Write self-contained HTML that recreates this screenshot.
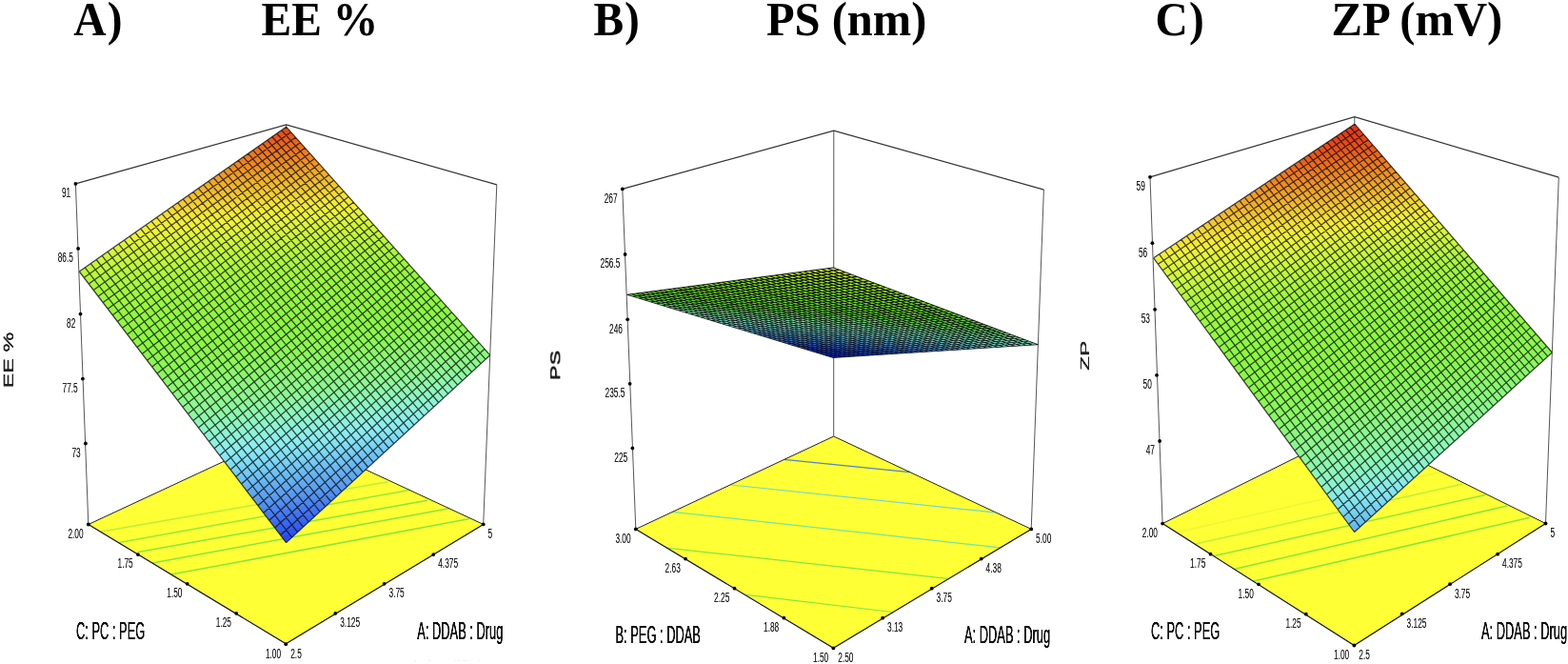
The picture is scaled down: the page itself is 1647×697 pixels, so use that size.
<!DOCTYPE html>
<html lang="en"><head><meta charset="utf-8"><title>Response surface plots</title>
<style>html,body{margin:0;padding:0;background:#fff}body{width:1647px;height:697px;overflow:hidden}svg{display:block}</style>
</head><body>
<svg width="1647" height="697" viewBox="0 0 1647 697">
<rect width="1647" height="697" fill="#fff"/>
<defs><filter id="tb" x="-5%" y="-5%" width="110%" height="110%" color-interpolation-filters="sRGB"><feGaussianBlur stdDeviation="0.5 0.25"/><feComponentTransfer><feFuncA type="linear" slope="1.7"/></feComponentTransfer></filter><filter id="soft" x="-2%" y="-2%" width="104%" height="104%" color-interpolation-filters="sRGB"><feGaussianBlur stdDeviation="0.4"/></filter><filter id="tl" x="-5%" y="-5%" width="110%" height="110%" color-interpolation-filters="sRGB"><feGaussianBlur stdDeviation="0.3 0.3"/><feComponentTransfer><feFuncA type="linear" slope="1.2"/></feComponentTransfer></filter></defs>
<g id="panelA">
<g filter="url(#soft)">
<polygon points="92.8,550.5 300.3,675.8 507.7,550.4 300.3,454" fill="#ffff36"/>
<line x1="106.5" y1="557.9" x2="407.3" y2="505.8" stroke="#9be83a" stroke-width="1.5" stroke-opacity="0.7"/>
<line x1="125.2" y1="569.4" x2="429.5" y2="514.4" stroke="#84e43c" stroke-width="1.5" stroke-opacity="0.85"/>
<line x1="145.2" y1="579.5" x2="448.9" y2="525.2" stroke="#7ce23c" stroke-width="1.5" stroke-opacity="0.9"/>
<line x1="160.3" y1="590.9" x2="471.8" y2="533.8" stroke="#7ce23c" stroke-width="1.5" stroke-opacity="0.9"/>
<line x1="179.7" y1="603.1" x2="493.3" y2="544.6" stroke="#7ce23c" stroke-width="1.5" stroke-opacity="0.9"/>
<polyline points="92.8,550.5 300.3,454 507.7,550.4" fill="none" stroke="#222" stroke-width="1"/>
<polyline points="92.8,550.5 300.3,675.8 507.7,550.4" fill="none" stroke="#111" stroke-width="1.2"/>
<path d="M79.4,192.9 L92.8,550.5 M521.8,193.8 L507.7,550.4 M300.6,130.9 L300.3,454" fill="none" stroke="#555" stroke-width="1"/>
<polyline points="79.4,192.9 300.6,130.9 521.8,193.8" fill="none" stroke="#333" stroke-width="1.2"/>
<g shape-rendering="geometricPrecision"><polygon points="300.6,569.6 308.1,562.7 296.9,564.7" fill="#2643f4"/><polygon points="303.6,566.8 315.6,555.9 293.1,559.8 299.1,567.6" fill="#294af4"/><polygon points="311.1,560 323,549.1 289.4,555 295.4,562.7" fill="#2f55f4"/><polygon points="318.5,553.1 330.3,542.3 285.7,550.1 291.6,557.9" fill="#345ff4"/><polygon points="325.9,546.4 337.6,535.6 282,545.3 287.9,553" fill="#3a68f4"/><polygon points="333.2,539.6 344.8,529 278.3,540.5 284.2,548.2" fill="#3f72f4"/><polygon points="340.5,533 352,522.4 274.7,535.7 280.6,543.3" fill="#457bf4"/><polygon points="347.7,526.3 359.1,515.9 271,530.9 276.9,538.5" fill="#4a85f4"/><polygon points="354.8,519.8 366.2,509.4 267.4,526.1 273.2,533.7" fill="#5090f4"/><polygon points="361.9,513.2 373.2,502.9 263.8,521.3 269.6,529" fill="#559af4"/><polygon points="369,506.8 380.2,496.5 260.1,516.6 265.9,524.2" fill="#5ba2f4"/><polygon points="376,500.3 387.1,490.1 256.5,511.9 262.3,519.4" fill="#5faaf5"/><polygon points="382.9,494 393.9,483.8 252.9,507.2 258.7,514.7" fill="#62b1f7"/><polygon points="389.8,487.6 400.8,477.6 249.3,502.5 255.1,510" fill="#67b9f8"/><polygon points="396.7,481.3 407.5,471.4 245.8,497.8 251.5,505.3" fill="#6cc2f8"/><polygon points="403.5,475.1 414.2,465.2 242.2,493.1 247.9,500.6" fill="#71caf8"/><polygon points="410.2,468.9 420.9,459.1 238.7,488.5 244.3,495.9" fill="#77d3f8"/><polygon points="416.9,462.7 427.5,453 235.1,483.8 240.8,491.3" fill="#7cdcf8"/><polygon points="423.6,456.6 434.1,446.9 231.6,479.2 237.2,486.6" fill="#81e3f6"/><polygon points="430.2,450.5 440.7,440.9 228.1,474.6 233.7,482" fill="#86eaf5"/><polygon points="436.7,444.5 447.1,435 224.6,470 230.2,477.4" fill="#8aeef0"/><polygon points="443.3,438.5 453.6,429.1 221.1,465.5 226.7,472.8" fill="#8cf0eb"/><polygon points="449.7,432.6 460,423.2 217.6,460.9 223.2,468.2" fill="#8cf2e2"/><polygon points="456.1,426.7 466.3,417.3 214.1,456.3 219.7,463.6" fill="#8cf4da"/><polygon points="462.5,420.8 472.6,411.5 210.7,451.8 216.2,459.1" fill="#8cf5d0"/><polygon points="468.8,415 478.9,405.8 207.2,447.3 212.7,454.5" fill="#8cf7c6"/><polygon points="475.1,409.2 485.1,400.1 203.8,442.8 209.3,450" fill="#8cf8bc"/><polygon points="481.4,403.5 491.3,394.4 200.3,438.3 205.8,445.5" fill="#8cf8b2"/><polygon points="487.6,397.8 497.4,388.8 196.9,433.8 202.4,441" fill="#8cf8a8"/><polygon points="493.7,392.1 503.5,383.2 193.5,429.4 199,436.5" fill="#8cf89e"/><polygon points="499.9,386.5 509.6,377.6 190.1,424.9 195.6,432" fill="#8cf894"/><polygon points="505.9,380.9 514.8,372.8 514.3,372.3 186.7,420.5 192.2,427.6" fill="#8cf88d"/><polygon points="512,375.4 514.8,372.8 510.7,368.2 183.4,416.1 188.8,423.1" fill="#8cf888"/><polygon points="512.9,370.6 507,364.1 180,411.6 185.4,418.7" fill="#8bf881"/><polygon points="509.2,366.6 503.4,360.1 176.6,407.3 182,414.3" fill="#8bf87a"/><polygon points="505.6,362.5 499.8,356 173.3,402.9 178.7,409.9" fill="#8af872"/><polygon points="502,358.5 496.2,352 170,398.5 175.3,405.5" fill="#8af86b"/><polygon points="498.4,354.4 492.6,348 166.6,394.2 172,401.1" fill="#8af864"/><polygon points="494.8,350.4 489,344 163.3,389.8 168.6,396.8" fill="#8af85d"/><polygon points="491.2,346.4 485.5,340 160,385.5 165.3,392.4" fill="#8af856"/><polygon points="487.6,342.4 481.9,336 156.7,381.2 162,388.1" fill="#8af852"/><polygon points="484,338.4 478.3,332 153.4,376.9 158.7,383.8" fill="#8af84d"/><polygon points="480.5,334.4 474.8,328 150.2,372.6 155.4,379.5" fill="#8af848"/><polygon points="476.9,330.4 471.3,324.1 146.9,368.3 152.1,375.2" fill="#8af846"/><polygon points="473.4,326.5 467.7,320.2 143.7,364.1 148.9,370.9" fill="#8af844"/><polygon points="469.9,322.5 464.2,316.2 140.4,359.8 145.6,366.6" fill="#8bf842"/><polygon points="466.3,318.6 460.7,312.3 137.2,355.6 142.4,362.4" fill="#8cf841"/><polygon points="462.8,314.7 457.2,308.4 134,351.4 139.1,358.1" fill="#8df840"/><polygon points="459.3,310.7 453.8,304.5 130.7,347.1 135.9,353.9" fill="#8ef840"/><polygon points="455.8,306.8 450.3,300.6 127.5,342.9 132.7,349.7" fill="#8ff840"/><polygon points="452.4,303 446.8,296.8 124.4,338.8 129.5,345.5" fill="#90f840"/><polygon points="448.9,299.1 443.4,292.9 121.2,334.6 126.3,341.3" fill="#91f83f"/><polygon points="445.4,295.2 439.9,289 118,330.4 123.1,337.1" fill="#92f83f"/><polygon points="442,291.4 436.5,285.2 114.8,326.3 119.9,332.9" fill="#94f83e"/><polygon points="438.5,287.5 433.1,281.4 111.7,322.2 116.7,328.8" fill="#96f83e"/><polygon points="435.1,283.7 429.7,277.6 108.5,318 113.6,324.6" fill="#99f83d"/><polygon points="431.7,279.8 426.2,273.7 105.4,313.9 110.4,320.5" fill="#9cf83c"/><polygon points="428.3,276 422.9,270 102.3,309.8 107.3,316.4" fill="#9ff83c"/><polygon points="424.9,272.2 419.5,266.2 99.1,305.8 104.1,312.3" fill="#a2f83c"/><polygon points="421.5,268.4 416.1,262.4 96,301.7 101,308.2" fill="#a5f83c"/><polygon points="418.1,264.7 412.7,258.6 92.9,297.6 97.9,304.1" fill="#a9f83b"/><polygon points="414.7,260.9 409.4,254.9 89.8,293.6 94.8,300.1" fill="#adf83a"/><polygon points="411.4,257.1 406,251.1 86.8,289.5 91.7,296" fill="#b2f83a"/><polygon points="408,253.4 402.7,247.4 83.7,285.5 88.6,292" fill="#b8f839"/><polygon points="404.7,249.6 399.4,243.7 89.9,280.4 83.3,285 85.5,287.9" fill="#bef838"/><polygon points="401.4,245.9 396,240 97.4,275.2 85.4,283.6" fill="#c3f838"/><polygon points="398,242.2 392.7,236.3 104.8,270 92.9,278.3" fill="#c9f738"/><polygon points="394.7,238.5 389.4,232.6 112.2,264.8 100.4,273.1" fill="#cff638"/><polygon points="391.4,234.8 386.1,228.9 119.5,259.7 107.8,267.9" fill="#d5f638"/><polygon points="388.1,231.1 382.9,225.2 126.8,254.6 115.1,262.8" fill="#dbf638"/><polygon points="384.8,227.4 379.6,221.5 134.1,249.5 122.5,257.6" fill="#e2f537"/><polygon points="381.5,223.7 376.3,217.9 141.3,244.5 129.7,252.6" fill="#e8f535"/><polygon points="378.3,220.1 373.1,214.3 148.4,239.5 137,247.5" fill="#eef434"/><polygon points="375,216.4 369.8,210.6 155.5,234.5 144.1,242.5" fill="#f1f033"/><polygon points="371.8,212.8 366.6,207 162.6,229.6 151.3,237.5" fill="#f3ec31"/><polygon points="368.5,209.2 363.4,203.4 169.6,224.7 158.4,232.6" fill="#f6e730"/><polygon points="365.3,205.6 360.1,199.8 176.6,219.9 165.4,227.7" fill="#f5df2f"/><polygon points="362.1,202 356.9,196.2 183.5,215 172.4,222.8" fill="#f5d72d"/><polygon points="358.8,198.4 353.7,192.6 190.3,210.2 179.3,217.9" fill="#f4cf2c"/><polygon points="355.6,194.8 350.5,189 197.2,205.5 186.2,213.1" fill="#f3c72b"/><polygon points="352.4,191.2 347.3,185.5 203.9,200.7 193.1,208.3" fill="#f3bf29"/><polygon points="349.3,187.6 344.2,181.9 210.7,196 199.9,203.6" fill="#f2b728"/><polygon points="346.1,184.1 341,178.4 217.4,191.3 206.6,198.8" fill="#f2b125"/><polygon points="342.9,180.5 337.8,174.9 224,186.7 213.4,194.1" fill="#f1a923"/><polygon points="339.7,177 334.7,171.3 230.6,182.1 220,189.5" fill="#f1a021"/><polygon points="336.6,173.4 331.6,167.8 237.2,177.5 226.7,184.8" fill="#f09720"/><polygon points="333.4,169.9 328.4,164.3 243.7,172.9 233.3,180.2" fill="#ef8f1f"/><polygon points="330.3,166.4 325.3,160.8 250.2,168.4 239.8,175.7" fill="#ef871f"/><polygon points="327.2,162.9 322.2,157.3 256.6,163.9 246.3,171.1" fill="#ee801e"/><polygon points="324,159.4 319.1,153.9 263,159.4 252.8,166.6" fill="#ed791d"/><polygon points="320.9,155.9 316,150.4 269.4,155 259.2,162.1" fill="#ed721d"/><polygon points="317.8,152.5 312.9,146.9 275.7,150.6 265.6,157.7" fill="#ec6b1c"/><polygon points="314.7,149 309.8,143.5 282,146.2 271.9,153.2" fill="#eb621b"/><polygon points="311.6,145.6 306.7,140 288.2,141.8 278.2,148.8" fill="#ea5a1a"/><polygon points="308.6,142.1 303.7,136.6 294.4,137.5 284.5,144.5" fill="#e85218"/><polygon points="305.5,138.7 300.6,133.2 290.7,140.1" fill="#e74b17"/></g>
<path d="M300.6 569.6L83.3 285M300.6 569.6L514.8 372.8M306.6 564.1L89.3 280.8M294.6 561.8L509 366.3M312.5 558.6L95.3 276.6M288.7 554L503.1 359.8M318.4 553.2L101.2 272.5M282.7 546.2L497.4 353.3M324.3 547.8L107.2 268.3M276.8 538.5L491.6 346.8M330.2 542.4L113 264.2M271 530.8L485.9 340.4M336 537.1L118.9 260.1M265.1 523.2L480.1 334M341.8 531.8L124.7 256.1M259.3 515.6L474.5 327.7M347.5 526.5L130.5 252M253.6 508L468.8 321.3M353.2 521.3L136.2 248M247.8 500.5L463.2 315.1M358.9 516.1L142 244M242.1 493L457.6 308.8M364.5 510.9L147.7 240M236.4 485.5L452 302.5M370.1 505.7L153.3 236.1M230.8 478.1L446.4 296.3M375.7 500.6L159 232.1M225.1 470.8L440.9 290.1M381.2 495.5L164.6 228.2M219.5 463.4L435.4 284M386.7 490.5L170.2 224.3M214 456.1L429.9 277.9M392.2 485.4L175.7 220.5M208.4 448.9L424.5 271.8M397.7 480.4L181.2 216.6M202.9 441.6L419 265.7M403.1 475.4L186.7 212.8M197.4 434.5L413.6 259.6M408.5 470.5L192.2 208.9M192 427.3L408.3 253.6M413.8 465.6L197.6 205.2M186.5 420.2L402.9 247.6M419.1 460.7L203 201.4M181.1 413.1L397.6 241.7M424.4 455.8L208.4 197.6M175.7 406.1L392.3 235.7M429.7 451L213.7 193.9M170.4 399.1L387 229.8M434.9 446.2L219 190.2M165.1 392.1L381.7 223.9M440.1 441.4L224.3 186.5M159.8 385.1L376.5 218.1M445.3 436.7L229.6 182.8M154.5 378.2L371.3 212.2M450.4 431.9L234.8 179.1M149.2 371.4L366.1 206.4M455.6 427.2L240.1 175.5M144 364.5L360.9 200.7M460.7 422.5L245.2 171.9M138.8 357.7L355.8 194.9M465.7 417.9L250.4 168.3M133.7 350.9L350.6 189.2M470.7 413.3L255.5 164.7M128.5 344.2L345.5 183.5M475.7 408.7L260.6 161.1M123.4 337.5L340.4 177.8M480.7 404.1L265.7 157.6M118.3 330.8L335.4 172.1M485.7 399.6L270.8 154M113.2 324.2L330.4 166.5M490.6 395L275.8 150.5M108.2 317.6L325.3 160.9M495.5 390.5L280.8 147M103.2 311L320.4 155.3M500.4 386.1L285.8 143.5M98.2 304.5L315.4 149.7M505.2 381.6L290.8 140.1M93.2 297.9L310.4 144.2M510 377.2L295.7 136.6M88.2 291.5L305.5 138.7M514.8 372.8L300.6 133.2M83.3 285L300.6 133.2" fill="none" stroke="#101008" stroke-width="1.25" stroke-opacity="0.78"/>
<g fill="#000">
<circle cx="79.4" cy="192.9" r="1.9"/>
<circle cx="82.1" cy="260.9" r="1.9"/>
<circle cx="84.5" cy="329.6" r="1.9"/>
<circle cx="86.9" cy="397.6" r="1.9"/>
<circle cx="89.9" cy="465.5" r="1.9"/>
<circle cx="92.8" cy="550.5" r="1.9"/>
<circle cx="144.9" cy="582.1" r="1.9"/>
<circle cx="196.7" cy="612.8" r="1.9"/>
<circle cx="248.2" cy="643.8" r="1.9"/>
<circle cx="300.3" cy="676.2" r="1.9"/>
<circle cx="352.3" cy="643.8" r="1.9"/>
<circle cx="403.6" cy="612.8" r="1.9"/>
<circle cx="455.3" cy="582.1" r="1.9"/>
<circle cx="507.7" cy="550.4" r="1.9"/>
</g>
</g>
<g font-family="'Liberation Sans',Arial,sans-serif" filter="url(#tl)">
<text transform="translate(74.2 207.3) scale(0.555 1)" font-size="15.0" text-anchor="end" fill="#222">91</text>
<text transform="translate(76.9 275.3) scale(0.555 1)" font-size="15.0" text-anchor="end" fill="#222">86.5</text>
<text transform="translate(79.3 344) scale(0.555 1)" font-size="15.0" text-anchor="end" fill="#222">82</text>
<text transform="translate(81.7 412) scale(0.555 1)" font-size="15.0" text-anchor="end" fill="#222">77.5</text>
<text transform="translate(84.7 479.9) scale(0.555 1)" font-size="15.0" text-anchor="end" fill="#222">73</text>
<text transform="translate(87.6 564.8) scale(0.555 1)" font-size="15.0" text-anchor="end" fill="#222">2.00</text>
<text transform="translate(139.7 596.4) scale(0.555 1)" font-size="15.0" text-anchor="end" fill="#222">1.75</text>
<text transform="translate(191.5 627.1) scale(0.555 1)" font-size="15.0" text-anchor="end" fill="#222">1.50</text>
<text transform="translate(243 658.1) scale(0.555 1)" font-size="15.0" text-anchor="end" fill="#222">1.25</text>
<text transform="translate(295.1 690.5) scale(0.555 1)" font-size="15.0" text-anchor="end" fill="#222">1.00</text>
<text transform="translate(305.2 690.5) scale(0.555 1)" font-size="15.0" text-anchor="start" fill="#222">2.5</text>
<text transform="translate(357.2 658.1) scale(0.555 1)" font-size="15.0" text-anchor="start" fill="#222">3.125</text>
<text transform="translate(408.5 627.1) scale(0.555 1)" font-size="15.0" text-anchor="start" fill="#222">3.75</text>
<text transform="translate(460.2 596.4) scale(0.555 1)" font-size="15.0" text-anchor="start" fill="#222">4.375</text>
<text transform="translate(512.6 564.7) scale(0.555 1)" font-size="15.0" text-anchor="start" fill="#222">5</text>
</g>
<g font-family="'Liberation Sans',Arial,sans-serif" filter="url(#tb)">
<text transform="translate(80 670.7) scale(0.515 1)" font-size="25" text-anchor="start" fill="#111">C: PC : PEG</text>
<text transform="translate(438.3 670.7) scale(0.515 1)" font-size="25" text-anchor="start" fill="#111">A: DDAB : Drug</text>
<text transform="translate(14 378) rotate(-90) scale(1 0.6)" font-size="23.5" text-anchor="middle" fill="#222">EE %</text>
</g>
</g>
<g id="panelB">
<g filter="url(#soft)">
<polygon points="667.8,555.4 875.4,680.2 1083.2,555.4 875.7,458" fill="#ffff36"/>
<line x1="823.7" y1="482.4" x2="955.6" y2="495.6" stroke="#3f74d8" stroke-width="1.2" stroke-opacity="0.9"/>
<line x1="767.8" y1="509" x2="1044.1" y2="537.8" stroke="#63d2e0" stroke-width="1.2" stroke-opacity="0.9"/>
<line x1="706.6" y1="537.3" x2="1050.2" y2="574.9" stroke="#66e0a8" stroke-width="1.2" stroke-opacity="0.9"/>
<line x1="700" y1="575.1" x2="995.4" y2="607.3" stroke="#76e244" stroke-width="1.2" stroke-opacity="0.9"/>
<line x1="783.7" y1="624.3" x2="937.7" y2="642.5" stroke="#76e244" stroke-width="1.2" stroke-opacity="0.9"/>
<polyline points="667.8,555.4 875.7,458 1083.2,555.4" fill="none" stroke="#222" stroke-width="1"/>
<polyline points="667.8,555.4 875.4,680.2 1083.2,555.4" fill="none" stroke="#111" stroke-width="1.2"/>
<path d="M653.8,198.4 L667.8,555.4 M1096.4,199.1 L1083.2,555.4 M875.8,137.1 L875.7,458" fill="none" stroke="#555" stroke-width="1"/>
<polyline points="653.8,198.4 875.8,137.1 1096.4,199.1" fill="none" stroke="#333" stroke-width="1.2"/>
<polygon points="875.4,280.9 1090.2,361.7 875.1,375.5 658.6,309.3" fill="#000" stroke="#000" stroke-width="0.8" stroke-linejoin="round"/>
<g><path fill="#dbf12d" d="M875.4 281.4l4.2 1.6l-4.2 0.6l-4.2 -1.6zM869 282.3l4.2 1.5l-4.1 0.6l-4.2 -1.6z"/><path fill="#cfef2b" d="M862.7 283.1l4.2 1.6l-4.1 0.5l-4.2 -1.6zM881.7 283.8l4.2 1.6l-4.2 0.5l-4.2 -1.5zM875.4 284.6l4.2 1.6l-4.2 0.5l-4.2 -1.5z"/><path fill="#c4ee2a" d="M856.5 283.9l4.2 1.6l-4.1 0.5l-4.2 -1.5zM850.3 284.7l4.2 1.6l-4.1 0.5l-4.2 -1.5zM869.1 285.5l4.2 1.5l-4.2 0.5l-4.2 -1.5zM888 286.2l4.2 1.5l-4.2 0.6l-4.2 -1.6zM881.7 287l4.1 1.5l-4.2 0.6l-4.1 -1.6z"/><path fill="#baed29" d="M844.2 285.5l4.2 1.6l-4.1 0.5l-4.2 -1.5zM862.8 286.3l4.2 1.5l-4.1 0.5l-4.2 -1.5zM856.6 287.1l4.2 1.5l-4.1 0.5l-4.1 -1.5zM875.4 287.8l4.1 1.5l-4.1 0.5l-4.2 -1.5zM894.3 288.5l4.1 1.6l-4.2 0.5l-4.1 -1.5zM887.9 289.3l4.1 1.6l-4.2 0.5l-4.1 -1.6z"/><path fill="#b0ec28" d="M838.1 286.3l4.2 1.5l-4 0.6l-4.2 -1.6zM832 287.1l4.3 1.5l-4 0.5l-4.2 -1.5zM850.5 287.8l4.2 1.6l-4.1 0.5l-4.1 -1.5zM869.1 288.6l4.2 1.5l-4.1 0.5l-4.2 -1.5zM862.9 289.4l4.2 1.5l-4.1 0.5l-4.1 -1.5zM881.6 290.1l4.1 1.5l-4.1 0.5l-4.1 -1.5zM900.4 290.9l4.1 1.5l-4.2 0.5l-4.1 -1.5zM894.1 291.6l4.1 1.5l-4.2 0.5l-4.1 -1.5z"/><path fill="#aaeb29" d="M826.1 287.9l4.2 1.5l-4 0.5l-4.2 -1.5zM844.4 288.6l4.2 1.5l-4 0.5l-4.2 -1.5zM838.4 289.4l4.2 1.5l-4 0.5l-4.2 -1.5zM856.8 290.1l4.1 1.5l-4 0.5l-4.1 -1.5zM875.4 290.9l4.1 1.5l-4.1 0.5l-4.1 -1.5zM869.2 291.6l4.1 1.6l-4.1 0.4l-4.1 -1.4zM887.8 292.4l4.1 1.5l-4.2 0.5l-4.1 -1.5zM906.6 293.2l4 1.5l-4.2 0.5l-4.1 -1.5zM900.2 293.9l4 1.5l-4.1 0.5l-4.1 -1.5z"/><path fill="#a4ea29" d="M820.1 288.7l4.3 1.5l-4 0.5l-4.2 -1.5zM814.3 289.4l4.2 1.5l-3.9 0.5l-4.2 -1.5zM832.4 290.2l4.2 1.5l-3.9 0.5l-4.2 -1.5zM850.7 290.9l4.2 1.5l-4 0.5l-4.2 -1.5zM844.7 291.7l4.1 1.5l-3.9 0.4l-4.2 -1.4zM863 292.4l4.2 1.5l-4.1 0.5l-4.1 -1.5zM881.5 293.2l4.1 1.5l-4.1 0.5l-4.1 -1.5zM875.4 293.9l4 1.5l-4 0.5l-4.1 -1.5zM893.9 294.7l4 1.5l-4.1 0.5l-4 -1.5zM912.6 295.4l4 1.5l-4.2 0.5l-4 -1.5zM906.3 296.2l4 1.5l-4.2 0.5l-4 -1.5z"/><path fill="#9fea2a" d="M808.4 290.2l4.3 1.5l-3.9 0.5l-4.2 -1.5zM826.5 290.9l4.2 1.5l-3.9 0.5l-4.2 -1.5zM820.6 291.7l4.2 1.5l-3.9 0.4l-4.2 -1.4zM838.7 292.4l4.2 1.5l-4 0.5l-4.1 -1.5zM832.8 293.2l4.1 1.4l-3.9 0.5l-4.1 -1.4zM857 293.2l4.1 1.4l-4 0.5l-4.2 -1.4zM850.9 293.9l4.1 1.5l-3.9 0.5l-4.2 -1.5zM869.2 294.7l4.1 1.4l-4 0.5l-4.1 -1.5zM863.1 295.4l4.1 1.5l-4 0.5l-4.1 -1.5zM887.7 295.4l4 1.5l-4.1 0.5l-4 -1.5zM881.5 296.2l4 1.4l-4.1 0.5l-4 -1.5zM900 296.9l4 1.5l-4.2 0.5l-4 -1.5zM893.7 297.6l4 1.5l-4.1 0.5l-4 -1.5zM918.6 297.7l4 1.5l-4.2 0.5l-4 -1.5zM912.3 298.4l3.9 1.5l-4.1 0.5l-4 -1.5zM924.6 299.9l3.9 1.5l-4.2 0.5l-4 -1.5z"/><path fill="#99e92a" d="M802.7 290.9l4.2 1.5l-3.8 0.5l-4.3 -1.5zM796.9 291.7l4.3 1.5l-3.8 0.4l-4.3 -1.4zM814.8 292.4l4.2 1.5l-3.9 0.5l-4.2 -1.5zM809 293.2l4.2 1.4l-3.8 0.5l-4.2 -1.4zM826.9 293.9l4.2 1.5l-3.9 0.5l-4.2 -1.5zM844.9 294.6l4.2 1.5l-4 0.5l-4.1 -1.5zM839 295.4l4.1 1.4l-3.9 0.5l-4.1 -1.4zM857.1 296.1l4.1 1.5l-4 0.5l-4.1 -1.5zM875.3 296.9l4.1 1.5l-4.1 0.4l-4 -1.4zM869.3 297.6l4 1.5l-4 0.5l-4.1 -1.5zM887.6 298.4l4 1.4l-4.1 0.5l-4 -1.4zM906 299.1l4 1.5l-4.2 0.5l-4 -1.5zM899.8 299.9l3.9 1.4l-4.1 0.5l-4 -1.5zM918.2 300.6l4 1.5l-4.2 0.5l-4 -1.5zM930.5 302.1l3.9 1.5l-4.3 0.5l-3.9 -1.5z"/><path fill="#94e82b" d="M791.2 292.4l4.3 1.5l-3.8 0.5l-4.2 -1.5zM785.6 293.2l4.3 1.4l-3.8 0.5l-4.2 -1.4zM803.3 293.9l4.2 1.5l-3.8 0.4l-4.2 -1.4zM821.1 294.6l4.1 1.5l-3.8 0.5l-4.2 -1.5zM815.3 295.4l4.2 1.4l-3.9 0.5l-4.1 -1.5zM833.1 296.1l4.2 1.5l-3.9 0.4l-4.1 -1.4zM851.1 296.9l4.1 1.4l-3.9 0.5l-4.1 -1.5zM845.2 297.6l4.1 1.4l-3.9 0.5l-4.1 -1.4zM863.2 298.3l4.1 1.5l-4 0.5l-4.1 -1.5zM881.4 299.1l4 1.5l-4 0.4l-4 -1.4zM875.3 299.8l4.1 1.5l-4.1 0.4l-4 -1.4zM893.6 300.6l3.9 1.4l-4 0.5l-4 -1.4zM911.9 301.4l4 1.4l-4.2 0.5l-3.9 -1.5zM905.7 302.1l4 1.4l-4.2 0.5l-3.9 -1.5zM924.1 302.8l3.9 1.5l-4.2 0.5l-3.9 -1.5zM936.3 304.3l3.9 1.5l-4.2 0.4l-3.9 -1.4z"/><path fill="#8ee72b" d="M780 293.9l4.3 1.4l-3.7 0.5l-4.3 -1.4zM797.6 294.6l4.2 1.5l-3.8 0.5l-4.2 -1.5zM792 295.3l4.2 1.5l-3.8 0.5l-4.2 -1.5zM809.6 296.1l4.1 1.4l-3.8 0.5l-4.1 -1.4zM827.3 296.8l4.1 1.5l-3.8 0.5l-4.1 -1.5zM821.5 297.5l4.2 1.5l-3.9 0.5l-4.1 -1.5zM839.3 298.3l4.1 1.4l-3.9 0.5l-4.1 -1.4zM857.3 299l4 1.5l-3.9 0.5l-4.1 -1.5zM851.3 299.8l4.1 1.4l-3.9 0.5l-4.1 -1.5zM869.3 300.5l4 1.5l-4 0.4l-4 -1.4zM887.4 301.3l4 1.4l-4 0.5l-4 -1.4zM881.4 302l3.9 1.4l-4 0.5l-4 -1.4zM899.5 302.8l4 1.4l-4.1 0.5l-4 -1.5zM917.8 303.5l4 1.5l-4.2 0.4l-3.9 -1.4zM911.6 304.2l3.9 1.5l-4.1 0.4l-3.9 -1.4zM930 305l3.8 1.5l-4.1 0.4l-3.9 -1.4zM942.1 306.5l3.8 1.4l-4.2 0.5l-3.8 -1.4z"/><path fill="#88e72c" d="M774.5 294.6l4.2 1.5l-3.6 0.4l-4.3 -1.4zM769 295.3l4.3 1.5l-3.7 0.4l-4.2 -1.4zM786.4 296.1l4.2 1.4l-3.7 0.5l-4.2 -1.5zM803.9 296.8l4.2 1.4l-3.8 0.5l-4.2 -1.4zM798.3 297.5l4.1 1.4l-3.7 0.5l-4.2 -1.4zM815.8 298.3l4.1 1.4l-3.8 0.5l-4.1 -1.5zM833.5 299l4.1 1.4l-3.9 0.5l-4.1 -1.4zM827.7 299.7l4.1 1.4l-3.8 0.5l-4.1 -1.4zM845.5 300.5l4 1.4l-3.9 0.5l-4 -1.5zM863.3 301.2l4.1 1.5l-4 0.4l-4 -1.4zM857.4 301.9l4 1.5l-3.9 0.4l-4 -1.4zM875.3 302.7l4 1.4l-4 0.5l-4 -1.5zM893.4 303.5l3.9 1.4l-4 0.5l-4 -1.5zM887.3 304.1l4 1.5l-4.1 0.4l-3.9 -1.4zM905.4 304.9l3.9 1.5l-4 0.4l-4 -1.4zM923.7 305.7l3.9 1.4l-4.2 0.5l-3.9 -1.4zM917.5 306.4l3.8 1.4l-4.1 0.5l-3.9 -1.5zM935.8 307.2l3.8 1.4l-4.2 0.5l-3.8 -1.5zM947.8 308.7l3.8 1.4l-4.2 0.4l-3.8 -1.4z"/><path fill="#83e62c" d="M763.6 296l4.2 1.5l-3.6 0.4l-4.2 -1.4zM780.8 296.8l4.2 1.4l-3.6 0.5l-4.2 -1.5zM775.4 297.5l4.2 1.4l-3.7 0.5l-4.2 -1.5zM792.7 298.2l4.1 1.4l-3.7 0.5l-4.1 -1.4zM810.1 299l4.2 1.4l-3.8 0.4l-4.1 -1.4zM804.5 299.7l4.1 1.4l-3.7 0.4l-4.1 -1.4zM822 300.4l4.1 1.4l-3.8 0.5l-4.1 -1.4zM839.6 301.2l4.1 1.4l-3.9 0.4l-4 -1.4zM833.8 301.8l4.1 1.5l-3.8 0.4l-4.1 -1.4zM851.5 302.6l4.1 1.4l-3.9 0.5l-4.1 -1.4zM869.4 303.4l3.9 1.4l-3.9 0.5l-4 -1.5zM863.4 304.1l4 1.4l-3.9 0.4l-4 -1.4zM881.3 304.8l4 1.5l-4 0.4l-4 -1.4zM899.3 305.6l3.9 1.4l-4 0.5l-4 -1.4zM893.2 306.3l4 1.4l-4.1 0.5l-3.9 -1.5zM911.3 307.1l3.9 1.4l-4.1 0.4l-3.9 -1.4zM929.5 307.9l3.8 1.4l-4.1 0.4l-3.9 -1.4zM923.3 308.5l3.8 1.5l-4.1 0.4l-3.9 -1.4zM941.5 309.3l3.8 1.5l-4.2 0.4l-3.8 -1.4zM953.5 310.8l3.8 1.4l-4.2 0.4l-3.8 -1.4z"/><path fill="#81e52d" d="M758.2 296.7l4.2 1.5l-3.6 0.4l-4.2 -1.4zM752.8 297.4l4.3 1.5l-3.6 0.4l-4.2 -1.4zM769.9 298.2l4.2 1.4l-3.6 0.5l-4.2 -1.5zM787.1 298.9l4.2 1.4l-3.7 0.5l-4.1 -1.4zM781.6 299.6l4.2 1.4l-3.6 0.5l-4.2 -1.4zM798.9 300.3l4.1 1.5l-3.7 0.4l-4.1 -1.4zM816.3 301.1l4.1 1.4l-3.8 0.5l-4.1 -1.4zM810.7 301.8l4.1 1.4l-3.8 0.4l-4.1 -1.4zM828.1 302.5l4.1 1.5l-3.8 0.4l-4.1 -1.4zM845.7 303.3l4 1.4l-3.8 0.5l-4.1 -1.4zM839.9 304l4.1 1.4l-3.9 0.4l-4 -1.4zM857.6 304.7l3.9 1.5l-3.9 0.4l-3.9 -1.4zM875.3 305.5l4 1.4l-4 0.5l-3.9 -1.4zM869.4 306.2l4 1.4l-4 0.4l-3.9 -1.4zM887.2 307l3.9 1.4l-4 0.4l-3.9 -1.4zM905.2 307.7l3.9 1.5l-4.1 0.4l-3.9 -1.4zM899.1 308.4l3.9 1.4l-4 0.5l-3.9 -1.4zM917.1 309.2l3.8 1.4l-4.1 0.4l-3.8 -1.4zM935.2 310l3.8 1.4l-4.1 0.4l-3.8 -1.4zM929 310.7l3.8 1.4l-4.1 0.4l-3.8 -1.4zM947.2 311.5l3.8 1.4l-4.2 0.4l-3.8 -1.4zM959.2 312.9l3.7 1.4l-4.2 0.4l-3.8 -1.4z"/><path fill="#7ee42d" d="M747.5 298.1l4.2 1.4l-3.5 0.5l-4.2 -1.4zM764.5 298.9l4.2 1.4l-3.6 0.4l-4.2 -1.4zM759.1 299.6l4.3 1.4l-3.6 0.4l-4.2 -1.4zM776.2 300.3l4.2 1.4l-3.7 0.4l-4.1 -1.4zM793.4 301l4.1 1.4l-3.7 0.5l-4.1 -1.4zM787.9 301.7l4.1 1.4l-3.6 0.5l-4.2 -1.4zM805.1 302.5l4.1 1.4l-3.7 0.4l-4.1 -1.4zM822.4 303.2l4.1 1.4l-3.8 0.5l-4 -1.4zM816.8 303.9l4.1 1.4l-3.8 0.4l-4 -1.4zM834.2 304.6l4 1.5l-3.8 0.4l-4 -1.4zM851.7 305.4l4 1.4l-3.8 0.5l-4 -1.4zM845.9 306.1l4 1.4l-3.8 0.4l-4 -1.4zM863.5 306.8l4 1.5l-3.9 0.4l-4 -1.4zM881.2 307.6l4 1.4l-4 0.5l-3.9 -1.4zM875.3 308.3l3.9 1.4l-3.9 0.4l-3.9 -1.4zM893.1 309.1l3.9 1.4l-4 0.4l-3.9 -1.4zM911 309.9l3.8 1.4l-4 0.4l-3.9 -1.4zM904.9 310.5l3.9 1.4l-4.1 0.4l-3.8 -1.4zM922.8 311.3l3.9 1.4l-4.1 0.4l-3.9 -1.4zM940.9 312.1l3.8 1.4l-4.2 0.4l-3.7 -1.4zM934.7 312.8l3.8 1.3l-4.1 0.5l-3.8 -1.4zM952.8 313.6l3.8 1.4l-4.2 0.4l-3.8 -1.4zM946.6 314.2l3.7 1.4l-4.1 0.4l-3.8 -1.4zM964.8 315l3.7 1.4l-4.3 0.4l-3.7 -1.4z"/><path fill="#7be32d" d="M742.2 298.8l4.3 1.4l-3.5 0.5l-4.3 -1.4zM737 299.5l4.3 1.4l-3.5 0.4l-4.3 -1.3zM753.8 300.2l4.2 1.4l-3.5 0.5l-4.2 -1.4zM770.8 301l4.2 1.4l-3.6 0.4l-4.2 -1.4zM765.4 301.6l4.2 1.4l-3.6 0.5l-4.1 -1.4zM782.4 302.4l4.2 1.4l-3.7 0.4l-4.1 -1.4zM799.5 303.1l4.1 1.4l-3.6 0.5l-4.1 -1.4zM794 303.8l4.2 1.4l-3.7 0.4l-4.1 -1.3zM811.2 304.6l4.1 1.4l-3.7 0.4l-4.1 -1.4zM828.5 305.3l4 1.4l-3.7 0.5l-4.1 -1.4zM822.9 306l4 1.4l-3.7 0.4l-4.1 -1.4zM840.2 306.7l4 1.4l-3.8 0.5l-4 -1.4zM834.5 307.4l4 1.4l-3.7 0.4l-4.1 -1.4zM857.7 307.5l4 1.4l-3.9 0.4l-4 -1.3zM851.9 308.2l4 1.4l-3.9 0.4l-3.9 -1.4zM869.4 308.9l4 1.4l-3.9 0.5l-4 -1.4zM863.6 309.6l4 1.4l-3.9 0.4l-4 -1.4zM887.1 309.7l3.9 1.4l-4 0.4l-3.9 -1.3zM881.2 310.4l3.9 1.4l-4 0.4l-3.9 -1.4zM898.9 311.2l3.8 1.4l-4 0.4l-3.8 -1.4zM892.9 311.8l3.9 1.4l-4 0.4l-3.9 -1.4zM916.7 312l3.9 1.3l-4.1 0.5l-3.8 -1.4zM910.7 312.6l3.8 1.4l-4 0.4l-3.9 -1.4zM928.5 313.4l3.8 1.4l-4.1 0.4l-3.8 -1.4zM922.4 314l3.8 1.4l-4 0.4l-3.8 -1.3zM940.4 314.8l3.7 1.4l-4.1 0.4l-3.8 -1.3zM958.4 315.6l3.8 1.4l-4.2 0.4l-3.8 -1.3zM952.2 316.3l3.7 1.4l-4.2 0.4l-3.7 -1.4zM970.3 317.1l3.7 1.4l-4.3 0.4l-3.6 -1.4z"/><path fill="#79e22e" d="M731.8 300.2l4.3 1.4l-3.5 0.4l-4.2 -1.4zM748.6 300.9l4.2 1.4l-3.5 0.4l-4.2 -1.3zM743.3 301.6l4.2 1.4l-3.4 0.4l-4.2 -1.4zM760.1 302.3l4.2 1.4l-3.6 0.4l-4.1 -1.3zM754.8 303l4.2 1.4l-3.5 0.4l-4.2 -1.4zM777 303.1l4.2 1.3l-3.6 0.5l-4.2 -1.4zM771.6 303.7l4.2 1.4l-3.6 0.4l-4.1 -1.3zM788.6 304.5l4.1 1.4l-3.6 0.4l-4.1 -1.4zM783.2 305.1l4.1 1.4l-3.6 0.4l-4.1 -1.3zM805.7 305.2l4 1.4l-3.7 0.4l-4 -1.3zM800.2 305.9l4 1.4l-3.6 0.4l-4.1 -1.4zM817.3 306.6l4 1.4l-3.7 0.5l-4 -1.4zM811.7 307.3l4.1 1.4l-3.7 0.4l-4.1 -1.4zM828.9 308l4 1.4l-3.8 0.5l-4 -1.4zM846.2 308.8l4 1.4l-3.9 0.4l-3.9 -1.3zM840.5 309.5l4 1.3l-3.8 0.5l-4 -1.4zM857.8 310.2l4 1.4l-3.9 0.4l-3.9 -1.3zM875.3 311l3.9 1.4l-3.9 0.4l-3.9 -1.4zM869.5 311.7l3.9 1.3l-3.9 0.4l-3.9 -1.3zM887 312.4l3.9 1.4l-4 0.4l-3.9 -1.3zM904.6 313.2l3.9 1.4l-4 0.4l-3.9 -1.3zM898.7 313.9l3.8 1.3l-4 0.5l-3.8 -1.4zM916.4 314.7l3.8 1.3l-4.1 0.5l-3.8 -1.4zM934.2 315.5l3.8 1.3l-4.1 0.5l-3.8 -1.4zM928.1 316.1l3.8 1.4l-4.1 0.4l-3.8 -1.4zM946 316.9l3.7 1.4l-4.1 0.4l-3.8 -1.4zM964 317.7l3.7 1.4l-4.2 0.4l-3.7 -1.4zM957.7 318.3l3.7 1.4l-4.2 0.4l-3.7 -1.4zM975.8 319.1l3.6 1.4l-4.2 0.4l-3.7 -1.3z"/><path fill="#76e12e" d="M726.7 300.9l4.2 1.3l-3.4 0.5l-4.2 -1.4zM721.6 301.5l4.2 1.4l-3.4 0.4l-4.2 -1.3zM738.2 302.2l4.2 1.4l-3.5 0.5l-4.2 -1.4zM733 302.9l4.2 1.4l-3.4 0.4l-4.2 -1.4zM749.6 303.6l4.2 1.4l-3.5 0.4l-4.2 -1.3zM766.3 304.4l4.2 1.4l-3.6 0.4l-4.1 -1.4zM761.1 305l4.1 1.4l-3.5 0.4l-4.2 -1.3zM777.8 305.8l4.1 1.4l-3.5 0.4l-4.2 -1.4zM794.7 306.5l4.1 1.4l-3.6 0.4l-4.1 -1.3zM789.3 307.2l4.1 1.3l-3.6 0.5l-4.1 -1.4zM806.2 307.9l4.1 1.4l-3.7 0.4l-4 -1.3zM823.3 308.7l4 1.4l-3.7 0.4l-4 -1.4zM817.8 309.3l4 1.4l-3.7 0.4l-4 -1.3zM834.9 310.1l3.9 1.4l-3.7 0.4l-4 -1.4zM852.1 310.9l3.9 1.3l-3.8 0.5l-3.9 -1.4zM846.4 311.5l4 1.4l-3.8 0.4l-4 -1.4zM863.7 312.3l3.9 1.4l-3.8 0.4l-3.9 -1.4zM881.1 313.1l3.9 1.3l-3.9 0.5l-3.9 -1.4zM875.3 313.7l3.9 1.4l-3.9 0.4l-3.9 -1.4zM892.8 314.5l3.8 1.4l-3.9 0.4l-3.9 -1.4zM910.4 315.3l3.8 1.4l-4.1 0.4l-3.8 -1.4zM904.4 315.9l3.8 1.4l-4 0.4l-3.8 -1.4zM922 316.7l3.8 1.4l-4 0.4l-3.8 -1.4zM939.8 317.5l3.7 1.4l-4.1 0.4l-3.7 -1.4zM933.7 318.1l3.7 1.4l-4 0.4l-3.8 -1.4zM951.5 318.9l3.7 1.4l-4.1 0.4l-3.7 -1.3zM969.5 319.8l3.6 1.3l-4.2 0.4l-3.6 -1.3zM963.2 320.4l3.7 1.3l-4.2 0.4l-3.7 -1.3zM981.2 321.2l3.6 1.4l-4.2 0.4l-3.6 -1.4z"/><path fill="#73e02f" d="M716.5 302.2l4.3 1.3l-3.4 0.5l-4.2 -1.4zM711.5 302.8l4.3 1.4l-3.4 0.4l-4.2 -1.3zM727.9 303.6l4.2 1.3l-3.4 0.5l-4.2 -1.4zM744.4 304.3l4.2 1.4l-3.5 0.4l-4.1 -1.4zM739.3 304.9l4.2 1.4l-3.5 0.4l-4.2 -1.3zM755.8 305.7l4.2 1.3l-3.5 0.5l-4.2 -1.4zM772.5 306.4l4.1 1.4l-3.5 0.4l-4.2 -1.3zM767.2 307.1l4.1 1.3l-3.5 0.5l-4.1 -1.4zM783.9 307.8l4.1 1.4l-3.6 0.4l-4 -1.4zM800.8 308.6l4 1.3l-3.6 0.5l-4.1 -1.4zM795.4 309.2l4 1.4l-3.6 0.4l-4 -1.4zM812.3 310l4 1.3l-3.7 0.5l-4 -1.4zM829.3 310.7l4 1.4l-3.8 0.4l-4 -1.3zM823.7 311.4l4 1.3l-3.7 0.4l-4 -1.3zM840.8 312.1l3.9 1.4l-3.7 0.4l-4 -1.3zM858 312.9l3.9 1.4l-3.8 0.4l-4 -1.4zM852.3 313.5l3.9 1.4l-3.8 0.4l-3.9 -1.3zM869.5 314.3l3.9 1.4l-3.9 0.4l-3.8 -1.4zM886.9 315.1l3.8 1.4l-3.9 0.4l-3.8 -1.4zM881.1 315.7l3.8 1.4l-3.9 0.4l-3.8 -1.4zM898.5 316.5l3.8 1.4l-4 0.4l-3.8 -1.4zM916 317.3l3.8 1.4l-4 0.4l-3.8 -1.4zM910 317.9l3.8 1.4l-4 0.4l-3.7 -1.4zM927.6 318.7l3.8 1.4l-4.1 0.4l-3.7 -1.4zM945.4 319.5l3.7 1.4l-4.1 0.4l-3.8 -1.3zM939.2 320.2l3.8 1.3l-4.1 0.4l-3.7 -1.3zM957 321l3.7 1.3l-4.2 0.4l-3.6 -1.3zM974.9 321.8l3.6 1.4l-4.2 0.3l-3.6 -1.3zM968.7 322.4l3.6 1.3l-4.2 0.4l-3.6 -1.3zM986.6 323.2l3.6 1.4l-4.2 0.4l-3.6 -1.4z"/><path fill="#71e02f" d="M706.5 303.5l4.3 1.3l-3.3 0.5l-4.3 -1.4zM722.8 304.2l4.3 1.4l-3.4 0.4l-4.2 -1.4zM717.8 304.9l4.2 1.3l-3.3 0.4l-4.2 -1.3zM734.2 305.6l4.1 1.3l-3.4 0.5l-4.1 -1.4zM750.6 306.3l4.2 1.4l-3.5 0.4l-4.1 -1.3zM745.5 307l4.1 1.3l-3.4 0.4l-4.2 -1.3zM762 307.7l4.1 1.4l-3.5 0.4l-4.1 -1.4zM778.6 308.5l4.1 1.3l-3.6 0.4l-4 -1.3zM773.3 309.1l4.1 1.3l-3.5 0.5l-4.1 -1.4zM790 309.8l4.1 1.4l-3.6 0.4l-4.1 -1.3zM806.8 310.6l4 1.4l-3.6 0.4l-4 -1.4zM801.4 311.2l4 1.4l-3.6 0.4l-4 -1.4zM818.2 312l4 1.3l-3.7 0.5l-4 -1.4zM835.2 312.8l3.9 1.3l-3.7 0.4l-3.9 -1.3zM829.6 313.4l4 1.3l-3.7 0.4l-4 -1.3zM846.7 314.2l3.9 1.3l-3.8 0.4l-3.9 -1.3zM863.8 314.9l3.9 1.4l-3.9 0.4l-3.8 -1.3zM858.1 315.6l3.9 1.3l-3.8 0.4l-3.9 -1.3zM875.3 316.3l3.8 1.4l-3.8 0.4l-3.9 -1.4zM892.6 317.1l3.8 1.4l-3.9 0.4l-3.8 -1.4zM886.8 317.7l3.8 1.4l-3.9 0.4l-3.8 -1.4zM904.1 318.5l3.8 1.4l-3.9 0.4l-3.8 -1.4zM921.6 319.3l3.8 1.4l-4 0.4l-3.8 -1.4zM915.7 319.9l3.7 1.4l-4 0.4l-3.7 -1.4zM933.2 320.7l3.7 1.4l-4 0.4l-3.8 -1.3zM950.9 321.6l3.6 1.3l-4.1 0.4l-3.6 -1.3zM944.8 322.2l3.6 1.3l-4 0.4l-3.7 -1.3zM962.5 323l3.6 1.3l-4.1 0.4l-3.7 -1.3zM980.3 323.8l3.6 1.4l-4.2 0.3l-3.6 -1.3zM974.1 324.4l3.6 1.3l-4.2 0.4l-3.6 -1.3zM992 325.2l3.5 1.4l-4.2 0.4l-3.6 -1.4z"/><path fill="#6edf30" d="M701.6 304.1l4.3 1.4l-3.4 0.4l-4.2 -1.3zM696.7 304.8l4.3 1.3l-3.3 0.4l-4.3 -1.3zM712.8 305.5l4.3 1.3l-3.4 0.5l-4.2 -1.4zM729.1 306.2l4.2 1.4l-3.4 0.4l-4.2 -1.3zM724.1 306.9l4.2 1.3l-3.4 0.4l-4.2 -1.3zM740.4 307.6l4.1 1.3l-3.4 0.5l-4.1 -1.4zM756.8 308.3l4.1 1.4l-3.5 0.4l-4.1 -1.3zM751.6 309l4.2 1.3l-3.5 0.4l-4.1 -1.3zM768.1 309.7l4.1 1.4l-3.5 0.4l-4.1 -1.4zM784.7 310.5l4 1.3l-3.5 0.4l-4.1 -1.3zM779.4 311.1l4 1.3l-3.5 0.4l-4 -1.3zM796 311.8l4 1.4l-3.6 0.4l-4 -1.3zM812.8 312.6l4 1.4l-3.7 0.4l-4 -1.4zM807.4 313.2l3.9 1.4l-3.6 0.4l-4 -1.4zM824.1 314l4 1.3l-3.7 0.4l-3.9 -1.3zM841.1 314.8l3.9 1.3l-3.8 0.4l-3.9 -1.3zM835.5 315.4l3.9 1.3l-3.7 0.4l-3.9 -1.3zM852.5 316.2l3.9 1.3l-3.8 0.4l-3.9 -1.3zM869.6 316.9l3.8 1.4l-3.8 0.4l-3.9 -1.3zM863.9 317.5l3.8 1.4l-3.8 0.4l-3.8 -1.3zM881 318.3l3.8 1.4l-3.8 0.4l-3.9 -1.4zM898.3 319.1l3.8 1.4l-4 0.4l-3.8 -1.4zM892.4 319.7l3.8 1.4l-3.9 0.4l-3.7 -1.4zM909.8 320.5l3.7 1.4l-3.9 0.4l-3.8 -1.4zM927.2 321.3l3.7 1.4l-4 0.4l-3.7 -1.4zM921.2 321.9l3.7 1.4l-3.9 0.4l-3.8 -1.4zM938.7 322.7l3.7 1.4l-4.1 0.4l-3.6 -1.4zM956.3 323.6l3.7 1.3l-4.1 0.4l-3.7 -1.3zM950.2 324.1l3.7 1.4l-4.1 0.4l-3.7 -1.4zM967.9 325l3.6 1.3l-4.2 0.4l-3.6 -1.3zM985.7 325.8l3.5 1.3l-4.2 0.4l-3.5 -1.3zM979.4 326.4l3.6 1.3l-4.2 0.4l-3.5 -1.3zM997.3 327.2l3.5 1.3l-4.2 0.4l-3.6 -1.3z"/><path fill="#6cde31" d="M691.9 305.4l4.2 1.3l-3.3 0.5l-4.2 -1.4zM707.9 306.1l4.2 1.4l-3.3 0.4l-4.2 -1.3zM703 306.8l4.2 1.3l-3.3 0.4l-4.2 -1.3zM719.1 307.5l4.2 1.3l-3.4 0.4l-4.1 -1.3zM735.3 308.2l4.2 1.4l-3.4 0.4l-4.2 -1.4zM730.3 308.8l4.1 1.4l-3.3 0.4l-4.2 -1.3zM746.5 309.6l4.1 1.3l-3.4 0.4l-4.1 -1.3zM762.9 310.3l4.1 1.4l-3.5 0.4l-4.1 -1.3zM757.7 311l4.1 1.3l-3.4 0.4l-4.1 -1.3zM774.2 311.7l4 1.3l-3.5 0.4l-4.1 -1.3zM790.7 312.5l4 1.3l-3.6 0.4l-4 -1.3zM785.4 313.1l4 1.3l-3.5 0.4l-4 -1.3zM802 313.8l4 1.4l-3.6 0.4l-4 -1.4zM818.7 314.6l3.9 1.3l-3.6 0.4l-4 -1.3zM813.3 315.2l3.9 1.3l-3.6 0.4l-4 -1.3zM830 316l3.9 1.3l-3.6 0.4l-4 -1.3zM846.9 316.8l3.9 1.3l-3.8 0.4l-3.9 -1.3zM841.3 317.4l3.9 1.3l-3.7 0.4l-3.9 -1.3zM858.2 318.1l3.9 1.4l-3.8 0.4l-3.8 -1.4zM875.3 318.9l3.8 1.4l-3.8 0.4l-3.9 -1.4zM869.6 319.5l3.8 1.4l-3.8 0.3l-3.8 -1.3zM886.7 320.3l3.8 1.3l-3.9 0.4l-3.8 -1.3zM903.9 321.1l3.7 1.4l-3.9 0.3l-3.7 -1.3zM898.1 321.7l3.7 1.3l-3.9 0.4l-3.7 -1.3zM915.3 322.5l3.7 1.3l-3.9 0.4l-3.7 -1.3zM932.7 323.3l3.7 1.4l-4 0.3l-3.7 -1.3zM926.7 323.9l3.7 1.3l-3.9 0.4l-3.7 -1.3zM944.2 324.7l3.6 1.3l-4 0.4l-3.7 -1.3zM961.7 325.5l3.6 1.4l-4.1 0.4l-3.6 -1.4zM955.6 326.1l3.7 1.3l-4.1 0.4l-3.6 -1.3zM973.2 326.9l3.6 1.4l-4.1 0.3l-3.6 -1.3zM991 327.8l3.5 1.3l-4.2 0.4l-3.5 -1.3zM984.7 328.3l3.6 1.4l-4.2 0.3l-3.5 -1.3zM1002.5 329.2l3.5 1.3l-4.2 0.4l-3.5 -1.3z"/><path fill="#6adc34" d="M687 306l4.3 1.4l-3.3 0.4l-4.2 -1.3zM682.2 306.7l4.3 1.3l-3.2 0.4l-4.3 -1.3zM698.1 307.4l4.2 1.3l-3.2 0.4l-4.2 -1.3zM714.1 308.1l4.2 1.3l-3.3 0.5l-4.2 -1.4zM709.2 308.7l4.2 1.4l-3.3 0.4l-4.2 -1.4zM725.3 309.5l4.1 1.3l-3.3 0.4l-4.2 -1.3zM741.5 310.2l4.1 1.3l-3.4 0.4l-4.1 -1.3zM736.4 310.8l4.1 1.3l-3.3 0.4l-4.2 -1.3zM752.6 311.6l4.1 1.3l-3.4 0.4l-4.1 -1.3zM769 312.3l4 1.3l-3.5 0.4l-4 -1.3zM763.8 312.9l4.1 1.3l-3.5 0.4l-4.1 -1.3zM780.2 313.7l4 1.3l-3.5 0.4l-4 -1.3zM796.7 314.4l3.9 1.4l-3.5 0.4l-4 -1.4zM791.4 315l4 1.4l-3.6 0.4l-4 -1.4zM807.9 315.8l4 1.3l-3.6 0.4l-4 -1.3zM824.6 316.6l3.9 1.3l-3.7 0.4l-3.9 -1.3zM819.1 317.2l4 1.3l-3.7 0.4l-3.9 -1.3zM835.8 318l3.9 1.3l-3.7 0.4l-3.9 -1.4zM852.6 318.7l3.9 1.4l-3.7 0.3l-3.9 -1.3zM847.1 319.3l3.9 1.3l-3.7 0.4l-3.9 -1.3zM864 320.1l3.8 1.3l-3.8 0.4l-3.8 -1.3zM881 320.9l3.7 1.3l-3.8 0.4l-3.8 -1.3zM875.3 321.5l3.8 1.3l-3.8 0.4l-3.8 -1.3zM892.3 322.3l3.8 1.3l-3.9 0.4l-3.8 -1.3zM909.5 323.1l3.7 1.3l-3.9 0.4l-3.8 -1.3zM903.6 323.7l3.8 1.3l-3.9 0.4l-3.8 -1.3zM920.8 324.5l3.7 1.3l-3.9 0.4l-3.7 -1.3zM938.2 325.3l3.6 1.3l-4 0.4l-3.6 -1.3zM932.2 325.9l3.7 1.3l-4 0.3l-3.7 -1.3zM949.6 326.7l3.6 1.3l-4 0.4l-3.7 -1.3zM943.6 327.2l3.6 1.4l-4 0.3l-3.6 -1.3zM967.1 327.5l3.6 1.3l-4.1 0.4l-3.6 -1.3zM961 328.1l3.6 1.3l-4.1 0.4l-3.6 -1.3zM978.5 328.9l3.6 1.3l-4.1 0.4l-3.6 -1.3zM972.4 329.5l3.6 1.3l-4.1 0.3l-3.6 -1.3zM996.2 329.7l3.5 1.4l-4.2 0.3l-3.5 -1.3zM990 330.3l3.5 1.3l-4.1 0.4l-3.6 -1.3zM1007.7 331.1l3.5 1.4l-4.2 0.3l-3.5 -1.3zM1001.4 331.7l3.5 1.3l-4.2 0.4l-3.5 -1.3z"/><path fill="#69da37" d="M677.5 307.3l4.2 1.3l-3.1 0.4l-4.3 -1.3zM693.3 308l4.2 1.3l-3.2 0.4l-4.2 -1.3zM688.5 308.6l4.2 1.3l-3.2 0.4l-4.2 -1.3zM704.4 309.3l4.1 1.4l-3.2 0.4l-4.2 -1.3zM720.3 310.1l4.2 1.3l-3.3 0.4l-4.2 -1.3zM715.4 310.7l4.2 1.3l-3.3 0.4l-4.2 -1.3zM731.4 311.4l4.1 1.3l-3.3 0.4l-4.1 -1.3zM747.6 312.2l4 1.3l-3.4 0.4l-4 -1.3zM742.5 312.8l4.1 1.3l-3.4 0.4l-4.1 -1.3zM758.7 313.5l4 1.3l-3.4 0.4l-4.1 -1.3zM775 314.3l4 1.3l-3.5 0.4l-4 -1.3zM769.8 314.9l4 1.3l-3.4 0.4l-4.1 -1.3zM786.1 315.6l4 1.3l-3.5 0.4l-4 -1.3zM802.6 316.4l3.9 1.3l-3.5 0.4l-4 -1.3zM797.3 317l3.9 1.3l-3.5 0.4l-4 -1.3zM813.8 317.8l3.9 1.3l-3.6 0.4l-3.9 -1.3zM830.4 318.5l3.9 1.4l-3.7 0.3l-3.9 -1.3zM825 319.1l3.9 1.3l-3.7 0.4l-3.9 -1.3zM841.6 319.9l3.9 1.3l-3.7 0.4l-3.9 -1.3zM836.1 320.5l3.9 1.3l-3.7 0.4l-3.8 -1.3zM858.4 320.7l3.8 1.3l-3.7 0.4l-3.9 -1.3zM852.8 321.3l3.9 1.3l-3.8 0.4l-3.8 -1.3zM869.6 322.1l3.8 1.3l-3.7 0.4l-3.8 -1.3zM864 322.6l3.9 1.3l-3.8 0.4l-3.8 -1.3zM886.6 322.9l3.7 1.3l-3.8 0.4l-3.8 -1.4zM880.9 323.4l3.8 1.3l-3.8 0.4l-3.8 -1.3zM897.9 324.2l3.7 1.3l-3.9 0.4l-3.7 -1.3zM892.2 324.8l3.7 1.3l-3.8 0.4l-3.8 -1.3zM915 325l3.7 1.4l-3.9 0.3l-3.7 -1.3zM909.2 325.6l3.7 1.3l-3.9 0.4l-3.7 -1.3zM926.3 326.4l3.7 1.3l-4 0.4l-3.6 -1.3zM920.5 327l3.6 1.3l-3.9 0.4l-3.7 -1.3zM937.6 327.8l3.7 1.3l-4 0.4l-3.6 -1.3zM955 328.6l3.6 1.3l-4.1 0.4l-3.6 -1.3zM949 329.2l3.6 1.3l-4 0.3l-3.6 -1.2zM966.3 330l3.6 1.3l-4.1 0.4l-3.6 -1.3zM983.8 330.9l3.6 1.3l-4.2 0.3l-3.5 -1.3zM977.7 331.4l3.5 1.3l-4.1 0.4l-3.5 -1.3zM995.2 332.2l3.5 1.3l-4.2 0.4l-3.5 -1.3zM1012.9 333.1l3.4 1.3l-4.2 0.3l-3.5 -1.2zM1006.6 333.6l3.5 1.3l-4.2 0.4l-3.5 -1.3z"/><path fill="#68d93a" d="M672.8 307.9l4.2 1.3l-3.1 0.4l-4.3 -1.3zM668.1 308.5l4.2 1.3l-3.1 0.4l-4.2 -1.3zM683.8 309.2l4.2 1.3l-3.2 0.4l-4.2 -1.3zM699.5 310l4.2 1.3l-3.2 0.4l-4.2 -1.3zM694.7 310.6l4.2 1.3l-3.2 0.4l-4.2 -1.3zM710.6 311.3l4.1 1.3l-3.3 0.4l-4.1 -1.3zM726.5 312l4.1 1.3l-3.3 0.4l-4.1 -1.3zM721.6 312.6l4.1 1.3l-3.3 0.4l-4.1 -1.3zM737.5 313.4l4.1 1.3l-3.3 0.4l-4.1 -1.3zM753.6 314.1l4.1 1.3l-3.4 0.4l-4.1 -1.3zM748.6 314.7l4 1.3l-3.4 0.4l-4 -1.3zM764.7 315.5l4 1.3l-3.4 0.4l-4.1 -1.3zM759.6 316.1l4 1.3l-3.4 0.3l-4 -1.3zM780.9 316.2l4 1.3l-3.5 0.4l-4 -1.3zM775.8 316.8l4 1.3l-3.5 0.4l-4 -1.3zM792 317.6l4 1.3l-3.5 0.4l-4 -1.3zM786.8 318.2l4 1.3l-3.5 0.3l-4 -1.3zM808.4 318.3l4 1.4l-3.6 0.3l-3.9 -1.3zM803.1 318.9l4 1.3l-3.6 0.4l-3.9 -1.3zM819.6 319.7l3.9 1.3l-3.6 0.4l-3.9 -1.3zM814.2 320.3l4 1.3l-3.6 0.4l-3.9 -1.3zM830.7 321.1l3.9 1.3l-3.6 0.3l-3.9 -1.3zM847.3 321.8l3.9 1.3l-3.7 0.4l-3.9 -1.3zM841.9 322.4l3.8 1.3l-3.7 0.4l-3.8 -1.3zM858.5 323.2l3.8 1.3l-3.7 0.4l-3.8 -1.3zM875.3 324l3.7 1.3l-3.7 0.4l-3.8 -1.3zM869.7 324.6l3.8 1.3l-3.8 0.3l-3.8 -1.3zM886.5 325.4l3.7 1.3l-3.8 0.3l-3.7 -1.3zM903.4 326.2l3.7 1.3l-3.9 0.3l-3.7 -1.3zM897.7 326.7l3.7 1.3l-3.8 0.4l-3.8 -1.3zM914.6 327.5l3.7 1.3l-3.9 0.4l-3.6 -1.3zM931.7 328.4l3.7 1.3l-4 0.3l-3.6 -1.3zM925.9 328.9l3.6 1.3l-3.9 0.4l-3.6 -1.3zM943 329.7l3.6 1.3l-4 0.4l-3.6 -1.3zM960.3 330.6l3.6 1.3l-4.1 0.3l-3.6 -1.3zM954.3 331.1l3.6 1.3l-4 0.3l-3.6 -1.2zM971.6 331.9l3.6 1.3l-4.1 0.4l-3.6 -1.3zM989 332.8l3.6 1.3l-4.2 0.3l-3.5 -1.3zM982.9 333.3l3.5 1.3l-4.1 0.4l-3.5 -1.3zM1000.4 334.2l3.5 1.2l-4.2 0.4l-3.5 -1.3zM1018 335l3.4 1.3l-4.2 0.4l-3.4 -1.3zM1011.7 335.5l3.5 1.3l-4.2 0.4l-3.5 -1.3z"/><path fill="#67d73d" d="M663.5 309.1l4.2 1.3l-3.1 0.4l-4.2 -1.3zM679.1 309.8l4.2 1.3l-3.2 0.4l-4.2 -1.3zM674.4 310.4l4.2 1.3l-3.2 0.4l-4.2 -1.3zM690 311.2l4.2 1.3l-3.2 0.4l-4.2 -1.3zM685.3 311.8l4.1 1.2l-3.1 0.4l-4.2 -1.2zM705.7 311.9l4.2 1.3l-3.3 0.4l-4.1 -1.3zM700.9 312.5l4.2 1.3l-3.3 0.4l-4.1 -1.3zM716.7 313.2l4.1 1.3l-3.3 0.4l-4.1 -1.3zM711.8 313.8l4.2 1.3l-3.3 0.4l-4.1 -1.3zM732.6 314l4.1 1.3l-3.4 0.4l-4.1 -1.3zM727.6 314.6l4.1 1.2l-3.3 0.4l-4.1 -1.3zM743.6 315.3l4 1.3l-3.3 0.4l-4.1 -1.3zM738.6 315.9l4.1 1.3l-3.4 0.4l-4 -1.3zM754.6 316.6l4 1.3l-3.4 0.4l-4 -1.3zM770.6 317.4l4 1.3l-3.4 0.4l-4 -1.3zM765.6 318l4 1.3l-3.5 0.3l-4 -1.2zM781.7 318.7l3.9 1.3l-3.4 0.4l-4 -1.3zM797.9 319.5l3.9 1.3l-3.5 0.4l-3.9 -1.3zM792.7 320.1l3.9 1.3l-3.5 0.3l-3.9 -1.2zM809 320.8l3.9 1.3l-3.6 0.4l-3.9 -1.3zM825.4 321.6l3.8 1.3l-3.6 0.4l-3.9 -1.3zM820 322.2l3.9 1.3l-3.6 0.4l-3.9 -1.3zM836.4 323l3.9 1.3l-3.6 0.3l-3.9 -1.2zM853 323.8l3.8 1.3l-3.7 0.3l-3.8 -1.3zM847.5 324.3l3.9 1.3l-3.7 0.4l-3.8 -1.3zM864.1 325.1l3.8 1.3l-3.7 0.4l-3.8 -1.3zM880.8 325.9l3.8 1.3l-3.8 0.4l-3.7 -1.3zM875.3 326.5l3.7 1.3l-3.7 0.3l-3.8 -1.3zM892 327.3l3.7 1.3l-3.8 0.3l-3.7 -1.3zM908.9 328.1l3.7 1.3l-3.9 0.3l-3.7 -1.2zM903.2 328.6l3.7 1.3l-3.9 0.4l-3.7 -1.3zM920.1 329.4l3.6 1.3l-3.9 0.4l-3.6 -1.3zM937.1 330.3l3.6 1.3l-3.9 0.3l-3.6 -1.3zM931.3 330.8l3.6 1.3l-3.9 0.3l-3.7 -1.2zM948.4 331.6l3.5 1.3l-3.9 0.4l-3.6 -1.3zM965.6 332.5l3.5 1.3l-4 0.3l-3.6 -1.3zM959.6 333l3.5 1.3l-4 0.3l-3.5 -1.2zM976.8 333.8l3.6 1.3l-4.1 0.4l-3.5 -1.3zM994.2 334.7l3.5 1.3l-4.1 0.3l-3.5 -1.3zM988.1 335.2l3.5 1.3l-4.1 0.3l-3.5 -1.2zM1005.5 336.1l3.5 1.2l-4.2 0.4l-3.4 -1.3zM1023.1 336.9l3.4 1.3l-4.2 0.3l-3.5 -1.2zM1016.8 337.4l3.4 1.3l-4.2 0.4l-3.4 -1.3z"/><path fill="#65d640" d="M669.7 311l4.2 1.3l-3.1 0.4l-4.2 -1.3zM680.6 312.3l4.2 1.3l-3.2 0.4l-4.2 -1.3zM696.2 313.1l4.1 1.3l-3.2 0.4l-4.1 -1.3zM691.4 313.7l4.2 1.2l-3.2 0.4l-4.1 -1.2zM707 314.4l4.2 1.3l-3.3 0.4l-4.1 -1.3zM722.8 315.1l4.1 1.3l-3.3 0.4l-4.1 -1.3zM717.9 315.7l4.1 1.3l-3.2 0.4l-4.1 -1.3zM733.7 316.5l4 1.2l-3.3 0.4l-4 -1.2zM749.6 317.2l4 1.3l-3.4 0.4l-4 -1.3zM744.6 317.8l4 1.3l-3.3 0.3l-4 -1.2zM760.5 318.5l4 1.3l-3.4 0.4l-4 -1.3zM776.5 319.3l4 1.3l-3.4 0.4l-4 -1.3zM771.5 319.9l3.9 1.3l-3.4 0.3l-4 -1.2zM787.5 320.6l4 1.3l-3.5 0.4l-3.9 -1.3zM803.7 321.4l3.9 1.3l-3.5 0.4l-3.9 -1.3zM798.5 322l3.9 1.3l-3.5 0.3l-3.9 -1.2zM814.7 322.7l3.9 1.3l-3.6 0.4l-3.8 -1.3zM831.1 323.5l3.8 1.3l-3.6 0.4l-3.8 -1.3zM825.7 324.1l3.9 1.3l-3.6 0.3l-3.8 -1.2zM842.1 324.9l3.8 1.3l-3.6 0.3l-3.8 -1.3zM858.6 325.7l3.8 1.3l-3.7 0.3l-3.8 -1.3zM853.2 326.2l3.8 1.3l-3.7 0.4l-3.8 -1.3zM869.7 327l3.8 1.3l-3.8 0.4l-3.7 -1.3zM886.4 327.8l3.7 1.3l-3.8 0.4l-3.7 -1.3zM880.8 328.4l3.7 1.2l-3.7 0.4l-3.8 -1.3zM897.5 329.2l3.7 1.2l-3.8 0.4l-3.7 -1.3zM914.3 330l3.7 1.3l-3.9 0.3l-3.6 -1.2zM908.6 330.5l3.7 1.3l-3.9 0.4l-3.6 -1.3zM925.5 331.3l3.6 1.3l-3.9 0.4l-3.6 -1.3zM942.5 332.2l3.6 1.2l-4 0.4l-3.6 -1.3zM936.6 332.7l3.6 1.3l-3.9 0.3l-3.6 -1.2zM953.7 333.5l3.5 1.3l-4 0.4l-3.5 -1.3zM970.8 334.4l3.5 1.2l-4 0.4l-3.5 -1.3zM964.8 334.9l3.6 1.3l-4.1 0.3l-3.5 -1.3zM982 335.7l3.5 1.3l-4.1 0.3l-3.4 -1.2zM999.4 336.6l3.4 1.3l-4.1 0.3l-3.5 -1.3zM993.3 337.1l3.4 1.3l-4.1 0.3l-3.5 -1.3zM1010.6 338l3.4 1.2l-4.1 0.4l-3.5 -1.3zM1028.1 338.8l3.4 1.3l-4.2 0.3l-3.4 -1.2zM1021.9 339.3l3.4 1.3l-4.2 0.3l-3.4 -1.2z"/><path fill="#64d443" d="M675.9 312.9l4.2 1.3l-3.1 0.4l-4.2 -1.3zM686.7 314.2l4.2 1.3l-3.2 0.4l-4.1 -1.3zM702.3 315l4.1 1.3l-3.2 0.3l-4.1 -1.2zM697.5 315.5l4.2 1.3l-3.2 0.4l-4.1 -1.3zM713.1 316.3l4.1 1.3l-3.2 0.3l-4.1 -1.2zM728.8 317l4.1 1.3l-3.3 0.4l-4.1 -1.3zM724 317.6l4 1.3l-3.3 0.4l-4 -1.3zM739.7 318.4l4 1.2l-3.3 0.4l-4 -1.3zM755.5 319.1l4 1.3l-3.4 0.4l-4 -1.3zM750.5 319.7l4 1.2l-3.3 0.4l-4 -1.2zM766.4 320.4l4 1.3l-3.4 0.4l-4 -1.3zM782.4 321.2l3.9 1.3l-3.4 0.4l-4 -1.3zM777.3 321.8l4 1.2l-3.5 0.4l-3.9 -1.3zM793.3 322.5l3.9 1.3l-3.4 0.4l-3.9 -1.3zM809.5 323.3l3.9 1.3l-3.6 0.4l-3.9 -1.3zM804.3 323.9l3.9 1.2l-3.6 0.4l-3.8 -1.3zM820.5 324.6l3.8 1.3l-3.6 0.4l-3.8 -1.3zM836.7 325.4l3.9 1.3l-3.6 0.4l-3.9 -1.3zM831.4 326l3.8 1.2l-3.6 0.4l-3.8 -1.3zM847.8 326.8l3.7 1.2l-3.6 0.4l-3.8 -1.3zM864.2 327.6l3.8 1.2l-3.7 0.4l-3.8 -1.3zM858.8 328.1l3.7 1.3l-3.7 0.3l-3.7 -1.2zM875.2 328.9l3.8 1.3l-3.8 0.3l-3.7 -1.2zM891.9 329.7l3.7 1.3l-3.8 0.3l-3.7 -1.2zM886.3 330.2l3.7 1.3l-3.8 0.4l-3.7 -1.3zM902.9 331.1l3.7 1.2l-3.8 0.4l-3.7 -1.3zM919.7 331.9l3.6 1.2l-3.8 0.4l-3.7 -1.3zM914 332.4l3.6 1.3l-3.8 0.3l-3.6 -1.2zM930.8 333.2l3.6 1.3l-3.9 0.3l-3.6 -1.2zM947.8 334.1l3.5 1.2l-3.9 0.4l-3.6 -1.3zM941.9 334.6l3.6 1.2l-3.9 0.4l-3.6 -1.3zM958.9 335.4l3.5 1.3l-4 0.3l-3.5 -1.2zM976 336.2l3.5 1.3l-4 0.4l-3.5 -1.3zM970 336.8l3.5 1.2l-4 0.4l-3.5 -1.3zM987.2 337.6l3.4 1.3l-4 0.3l-3.5 -1.2zM1004.5 338.5l3.4 1.2l-4.2 0.4l-3.4 -1.3zM998.4 339l3.4 1.2l-4.1 0.4l-3.5 -1.3zM1015.7 339.8l3.4 1.3l-4.2 0.3l-3.4 -1.2zM1033.1 340.7l3.4 1.2l-4.3 0.4l-3.3 -1.3zM1026.9 341.2l3.3 1.2l-4.2 0.4l-3.3 -1.3z"/><path fill="#67d550" d="M682.1 314.8l4.1 1.3l-3.1 0.4l-4.1 -1.3zM692.9 316.1l4.1 1.3l-3.2 0.4l-4.1 -1.3zM708.3 316.9l4.1 1.2l-3.2 0.4l-4.1 -1.3zM703.6 317.4l4.1 1.3l-3.2 0.4l-4.1 -1.3zM719.1 318.2l4.1 1.2l-3.2 0.4l-4.1 -1.2zM734.8 318.9l4 1.3l-3.3 0.4l-4 -1.3zM729.9 319.5l4.1 1.2l-3.3 0.4l-4 -1.2zM745.6 320.2l4 1.3l-3.3 0.4l-4 -1.3zM761.4 321l4 1.3l-3.4 0.3l-4 -1.2zM756.4 321.5l4 1.3l-3.3 0.4l-4 -1.3zM772.3 322.3l3.9 1.3l-3.4 0.3l-3.9 -1.2zM788.2 323.1l3.9 1.2l-3.4 0.4l-3.9 -1.2zM783.1 323.6l3.9 1.3l-3.4 0.4l-3.9 -1.3zM799.1 324.4l3.9 1.3l-3.5 0.3l-3.9 -1.2zM815.2 325.2l3.9 1.3l-3.6 0.3l-3.8 -1.2zM810 325.7l3.8 1.3l-3.5 0.3l-3.8 -1.2zM826.1 326.5l3.8 1.3l-3.5 0.3l-3.8 -1.2zM842.4 327.3l3.8 1.3l-3.7 0.3l-3.7 -1.2zM837 327.8l3.8 1.3l-3.6 0.4l-3.7 -1.3zM853.3 328.6l3.8 1.3l-3.7 0.3l-3.7 -1.2zM869.7 329.4l3.8 1.3l-3.7 0.4l-3.8 -1.3zM864.3 330l3.7 1.2l-3.7 0.4l-3.7 -1.3zM880.7 330.8l3.7 1.2l-3.7 0.4l-3.7 -1.3zM897.3 331.6l3.7 1.2l-3.8 0.4l-3.7 -1.3zM891.7 332.1l3.7 1.3l-3.8 0.3l-3.6 -1.2zM908.3 332.9l3.7 1.3l-3.9 0.3l-3.6 -1.2zM925.1 333.7l3.6 1.3l-3.9 0.3l-3.6 -1.2zM919.4 334.3l3.6 1.2l-3.9 0.4l-3.6 -1.3zM936.1 335.1l3.6 1.2l-3.9 0.4l-3.6 -1.3zM953 335.9l3.6 1.3l-4 0.3l-3.5 -1.2zM947.2 336.4l3.5 1.3l-3.9 0.3l-3.6 -1.2zM964.1 337.3l3.5 1.2l-4 0.4l-3.5 -1.3zM981.2 338.1l3.4 1.3l-4 0.3l-3.5 -1.2zM975.2 338.6l3.5 1.3l-4.1 0.3l-3.4 -1.2zM992.3 339.5l3.4 1.2l-4.1 0.4l-3.4 -1.3zM1009.5 340.3l3.4 1.3l-4.1 0.3l-3.4 -1.2zM1003.4 340.8l3.4 1.3l-4.1 0.3l-3.4 -1.2zM1020.7 341.7l3.3 1.2l-4.1 0.4l-3.4 -1.3zM1038.1 342.5l3.3 1.3l-4.2 0.3l-3.4 -1.2zM1031.8 343l3.4 1.3l-4.2 0.3l-3.4 -1.2z"/><path fill="#6bd65e" d="M688.2 316.7l4.1 1.3l-3.1 0.3l-4.1 -1.2zM698.9 318l4.1 1.2l-3.2 0.4l-4.1 -1.2zM714.4 318.7l4 1.3l-3.2 0.4l-4.1 -1.3zM709.6 319.3l4.1 1.2l-3.2 0.4l-4.1 -1.2zM725.1 320l4.1 1.3l-3.3 0.4l-4 -1.3zM740.7 320.8l4 1.3l-3.3 0.3l-4 -1.2zM735.9 321.3l4 1.3l-3.3 0.4l-4 -1.3zM751.5 322.1l4 1.3l-3.3 0.3l-4 -1.2zM767.3 322.9l3.9 1.2l-3.4 0.4l-3.9 -1.3zM762.3 323.4l3.9 1.3l-3.3 0.3l-4 -1.2zM778.1 324.2l3.9 1.2l-3.4 0.4l-3.9 -1.3zM794 324.9l3.9 1.3l-3.5 0.4l-3.9 -1.3zM788.9 325.5l3.9 1.2l-3.5 0.4l-3.9 -1.2zM804.8 326.3l3.9 1.2l-3.5 0.4l-3.9 -1.3zM820.9 327l3.8 1.3l-3.5 0.4l-3.9 -1.3zM815.7 327.6l3.8 1.2l-3.5 0.4l-3.9 -1.3zM831.8 328.4l3.7 1.2l-3.5 0.4l-3.8 -1.3zM848 329.2l3.7 1.2l-3.6 0.4l-3.8 -1.3zM842.6 329.7l3.8 1.2l-3.6 0.4l-3.8 -1.3zM858.9 330.5l3.7 1.2l-3.6 0.4l-3.8 -1.3zM875.2 331.3l3.7 1.2l-3.7 0.4l-3.7 -1.3zM869.8 331.8l3.7 1.3l-3.7 0.3l-3.7 -1.2zM886.2 332.6l3.7 1.3l-3.8 0.3l-3.7 -1.2zM902.7 333.4l3.6 1.3l-3.7 0.3l-3.7 -1.2zM897.1 334l3.7 1.2l-3.8 0.3l-3.6 -1.2zM913.7 334.8l3.6 1.2l-3.8 0.4l-3.6 -1.3zM930.4 335.6l3.5 1.2l-3.8 0.4l-3.6 -1.3zM924.7 336.1l3.5 1.3l-3.8 0.3l-3.6 -1.3zM941.4 336.9l3.5 1.3l-3.9 0.3l-3.5 -1.2zM958.2 337.8l3.5 1.2l-3.9 0.4l-3.5 -1.3zM952.4 338.3l3.5 1.2l-3.9 0.3l-3.6 -1.2zM969.3 339.1l3.4 1.3l-3.9 0.3l-3.5 -1.2zM986.3 340l3.4 1.2l-4 0.3l-3.5 -1.2zM980.3 340.5l3.5 1.2l-4.1 0.3l-3.4 -1.2zM997.4 341.3l3.4 1.3l-4.1 0.3l-3.4 -1.3zM1014.5 342.2l3.4 1.2l-4.1 0.3l-3.4 -1.2zM1008.4 342.7l3.4 1.2l-4.1 0.3l-3.4 -1.2zM1025.6 343.5l3.4 1.3l-4.2 0.3l-3.3 -1.3zM1019.5 344l3.3 1.2l-4.1 0.4l-3.3 -1.3zM1043 344.4l3.3 1.2l-4.2 0.4l-3.4 -1.3zM1036.7 344.9l3.4 1.2l-4.2 0.3l-3.4 -1.2zM1047.8 346.2l3.3 1.3l-4.2 0.3l-3.3 -1.3z"/><path fill="#6fd86d" d="M694.3 318.5l4 1.3l-3.1 0.4l-4.1 -1.3zM704.9 319.8l4.1 1.3l-3.2 0.4l-4 -1.3zM720.3 320.6l4.1 1.2l-3.3 0.4l-4 -1.2zM715.6 321.1l4 1.3l-3.2 0.3l-4 -1.2zM731.1 321.9l4 1.2l-3.3 0.4l-4 -1.2zM746.6 322.6l4 1.3l-3.3 0.4l-4 -1.3zM741.8 323.2l3.9 1.2l-3.3 0.4l-3.9 -1.2zM757.4 323.9l3.9 1.3l-3.3 0.4l-4 -1.3zM773.1 324.7l3.9 1.3l-3.4 0.3l-3.9 -1.2zM768.1 325.2l3.9 1.3l-3.4 0.4l-3.9 -1.3zM783.8 326l3.9 1.3l-3.4 0.3l-3.9 -1.2zM799.7 326.8l3.8 1.2l-3.4 0.4l-3.9 -1.2zM794.6 327.3l3.9 1.3l-3.5 0.3l-3.8 -1.2zM810.5 328.1l3.8 1.3l-3.5 0.3l-3.8 -1.2zM826.5 328.9l3.8 1.2l-3.5 0.4l-3.8 -1.2zM821.3 329.4l3.8 1.3l-3.5 0.3l-3.8 -1.2zM837.3 330.2l3.8 1.3l-3.6 0.3l-3.7 -1.2zM853.5 331l3.7 1.3l-3.6 0.3l-3.7 -1.2zM848.2 331.5l3.7 1.3l-3.6 0.3l-3.7 -1.2zM864.4 332.3l3.7 1.3l-3.7 0.3l-3.7 -1.2zM880.7 333.1l3.7 1.3l-3.7 0.3l-3.7 -1.2zM875.2 333.6l3.7 1.3l-3.7 0.3l-3.7 -1.2zM891.6 334.5l3.6 1.2l-3.7 0.3l-3.7 -1.2zM908.1 335.3l3.6 1.2l-3.8 0.4l-3.6 -1.3zM902.5 335.8l3.6 1.2l-3.8 0.4l-3.6 -1.3zM919 336.6l3.6 1.2l-3.8 0.4l-3.6 -1.3zM935.6 337.4l3.6 1.3l-3.9 0.3l-3.5 -1.2zM929.9 337.9l3.6 1.3l-3.9 0.3l-3.5 -1.2zM946.6 338.8l3.5 1.2l-3.9 0.3l-3.5 -1.2zM940.8 339.3l3.6 1.2l-3.9 0.3l-3.5 -1.2zM963.4 339.6l3.5 1.3l-4 0.3l-3.5 -1.3zM957.6 340.1l3.4 1.2l-3.9 0.4l-3.5 -1.3zM974.4 340.9l3.4 1.3l-4 0.3l-3.4 -1.2zM968.5 341.4l3.5 1.3l-4 0.3l-3.5 -1.2zM991.3 341.8l3.5 1.2l-4.1 0.4l-3.4 -1.3zM985.4 342.3l3.4 1.2l-4 0.3l-3.4 -1.2zM1002.4 343.1l3.4 1.3l-4.1 0.3l-3.4 -1.2zM996.4 343.6l3.4 1.2l-4.1 0.4l-3.4 -1.3zM1013.4 344.5l3.4 1.2l-4.1 0.3l-3.4 -1.2zM1030.6 345.3l3.3 1.3l-4.2 0.3l-3.3 -1.2zM1024.4 345.8l3.4 1.2l-4.2 0.4l-3.3 -1.3zM1041.6 346.7l3.3 1.2l-4.2 0.3l-3.3 -1.2zM1052.7 348l3.2 1.3l-4.2 0.3l-3.3 -1.2z"/><path fill="#72d979" d="M700.3 320.4l4 1.2l-3.1 0.4l-4.1 -1.2zM710.9 321.7l4 1.2l-3.2 0.4l-4 -1.3zM726.3 322.4l4 1.3l-3.3 0.3l-4 -1.2zM721.5 323l4 1.2l-3.2 0.4l-4 -1.3zM736.9 323.7l4 1.3l-3.2 0.3l-4 -1.2zM752.5 324.5l3.9 1.2l-3.3 0.4l-4 -1.3zM747.6 325l3.9 1.3l-3.2 0.3l-4 -1.2zM763.2 325.8l3.9 1.2l-3.4 0.4l-3.9 -1.3zM778.8 326.6l3.9 1.2l-3.4 0.3l-3.9 -1.2zM773.8 327.1l3.9 1.2l-3.3 0.4l-3.9 -1.3zM789.5 327.9l3.9 1.2l-3.4 0.3l-3.9 -1.2zM805.4 328.6l3.8 1.3l-3.5 0.3l-3.8 -1.2zM800.3 329.2l3.8 1.2l-3.4 0.3l-3.9 -1.2zM816.1 329.9l3.8 1.3l-3.5 0.3l-3.8 -1.2zM832.1 330.7l3.8 1.3l-3.6 0.3l-3.8 -1.2zM826.9 331.2l3.7 1.3l-3.5 0.3l-3.7 -1.2zM842.9 332l3.7 1.3l-3.6 0.3l-3.7 -1.2zM837.6 332.5l3.8 1.3l-3.6 0.3l-3.7 -1.2zM859 332.8l3.7 1.3l-3.6 0.3l-3.7 -1.2zM853.7 333.3l3.7 1.3l-3.6 0.3l-3.7 -1.2zM869.8 334.2l3.7 1.2l-3.7 0.3l-3.6 -1.2zM864.4 334.7l3.7 1.2l-3.6 0.3l-3.7 -1.2zM886.1 335l3.6 1.2l-3.7 0.3l-3.6 -1.2zM880.6 335.5l3.7 1.2l-3.7 0.3l-3.6 -1.2zM896.9 336.3l3.7 1.2l-3.8 0.4l-3.6 -1.3zM891.5 336.8l3.6 1.2l-3.7 0.3l-3.7 -1.2zM913.4 337.1l3.6 1.2l-3.8 0.4l-3.6 -1.3zM907.8 337.6l3.6 1.2l-3.8 0.4l-3.6 -1.3zM924.3 338.4l3.5 1.3l-3.8 0.3l-3.6 -1.2zM918.6 338.9l3.6 1.2l-3.8 0.4l-3.6 -1.2zM935.1 339.8l3.6 1.2l-3.9 0.3l-3.5 -1.2zM951.8 340.6l3.5 1.2l-3.9 0.3l-3.5 -1.2zM946 341.1l3.5 1.2l-3.9 0.3l-3.5 -1.2zM962.7 341.9l3.4 1.2l-3.9 0.4l-3.5 -1.3zM979.5 342.8l3.4 1.2l-4 0.3l-3.4 -1.2zM973.6 343.2l3.4 1.3l-3.9 0.3l-3.5 -1.2zM990.4 344.1l3.4 1.2l-4 0.3l-3.4 -1.2zM1007.4 345l3.3 1.2l-4.1 0.3l-3.3 -1.2zM1001.4 345.4l3.3 1.2l-4 0.4l-3.4 -1.3zM1018.3 346.3l3.4 1.2l-4.1 0.3l-3.4 -1.2zM1035.4 347.2l3.3 1.2l-4.1 0.3l-3.3 -1.2zM1029.3 347.6l3.3 1.2l-4.1 0.3l-3.3 -1.2zM1046.5 348.5l3.2 1.2l-4.2 0.3l-3.2 -1.2zM1057.5 349.8l3.2 1.3l-4.2 0.3l-3.3 -1.3z"/><path fill="#75db85" d="M706.2 322.2l4.1 1.3l-3.2 0.3l-4 -1.2zM716.8 323.5l4 1.2l-3.2 0.4l-4 -1.2zM732.2 324.3l3.9 1.2l-3.2 0.3l-4 -1.2zM727.4 324.8l4 1.2l-3.2 0.4l-4 -1.3zM742.8 325.5l3.9 1.3l-3.2 0.3l-4 -1.2zM758.3 326.3l3.9 1.2l-3.3 0.4l-4 -1.2zM753.4 326.8l3.9 1.3l-3.3 0.3l-3.9 -1.2zM768.9 327.6l3.9 1.2l-3.3 0.4l-3.9 -1.2zM764 328.1l3.9 1.2l-3.3 0.4l-3.9 -1.2zM784.5 328.4l3.9 1.2l-3.4 0.4l-3.9 -1.3zM779.6 328.9l3.8 1.2l-3.4 0.4l-3.8 -1.3zM795.2 329.7l3.8 1.2l-3.4 0.3l-3.8 -1.2zM790.2 330.2l3.8 1.2l-3.4 0.4l-3.8 -1.3zM811 330.5l3.8 1.2l-3.5 0.3l-3.8 -1.2zM805.9 331l3.8 1.2l-3.4 0.3l-3.9 -1.2zM821.7 331.8l3.8 1.2l-3.5 0.3l-3.8 -1.2zM816.6 332.3l3.7 1.2l-3.4 0.3l-3.8 -1.2zM832.4 333.1l3.8 1.2l-3.6 0.3l-3.7 -1.2zM848.4 333.9l3.7 1.2l-3.6 0.3l-3.7 -1.2zM843.1 334.4l3.7 1.2l-3.5 0.3l-3.7 -1.2zM859.1 335.2l3.7 1.2l-3.6 0.3l-3.7 -1.2zM875.2 336l3.7 1.2l-3.7 0.3l-3.6 -1.2zM869.9 336.5l3.6 1.2l-3.6 0.3l-3.7 -1.2zM886 337.3l3.6 1.2l-3.7 0.3l-3.6 -1.2zM902.3 338.1l3.6 1.2l-3.8 0.3l-3.6 -1.2zM896.8 338.6l3.6 1.2l-3.7 0.3l-3.6 -1.2zM913.1 339.4l3.5 1.2l-3.7 0.4l-3.6 -1.3zM929.5 340.2l3.5 1.3l-3.8 0.3l-3.5 -1.2zM923.9 340.7l3.5 1.2l-3.8 0.4l-3.5 -1.3zM940.3 341.6l3.5 1.2l-3.8 0.3l-3.5 -1.2zM956.9 342.4l3.5 1.2l-3.9 0.3l-3.5 -1.2zM951.2 342.9l3.4 1.2l-3.9 0.3l-3.4 -1.2zM967.8 343.7l3.4 1.2l-3.9 0.3l-3.5 -1.2zM984.5 344.6l3.4 1.2l-4 0.3l-3.4 -1.2zM978.6 345l3.4 1.2l-3.9 0.4l-3.4 -1.2zM995.4 345.9l3.4 1.2l-4 0.3l-3.4 -1.2zM1012.3 346.8l3.3 1.2l-4 0.3l-3.4 -1.2zM1006.3 347.2l3.3 1.2l-4 0.3l-3.4 -1.2zM1023.2 348.1l3.3 1.2l-4.1 0.3l-3.3 -1.2zM1040.3 349l3.3 1.2l-4.2 0.3l-3.3 -1.2zM1034.2 349.4l3.2 1.2l-4.1 0.3l-3.3 -1.2zM1051.3 350.3l3.2 1.2l-4.2 0.3l-3.2 -1.2zM1062.2 351.6l3.2 1.2l-4.2 0.3l-3.2 -1.2z"/><path fill="#78dc91" d="M712.1 324l4 1.3l-3.1 0.3l-4 -1.2zM722.7 325.3l4 1.2l-3.2 0.4l-4 -1.2zM718 325.8l4 1.3l-3.2 0.3l-4 -1.2zM738 326.1l3.9 1.2l-3.2 0.3l-4 -1.2zM733.2 326.6l4 1.2l-3.2 0.4l-4 -1.3zM748.6 327.4l3.9 1.2l-3.3 0.3l-3.9 -1.2zM743.8 327.9l3.9 1.2l-3.3 0.3l-3.9 -1.2zM759.1 328.6l3.9 1.3l-3.3 0.3l-3.9 -1.2zM774.6 329.4l3.9 1.2l-3.4 0.4l-3.8 -1.2zM769.7 329.9l3.9 1.2l-3.3 0.4l-3.9 -1.2zM785.2 330.7l3.9 1.2l-3.4 0.4l-3.9 -1.3zM800.8 331.5l3.8 1.2l-3.4 0.3l-3.8 -1.2zM795.8 332l3.8 1.2l-3.4 0.3l-3.8 -1.2zM811.5 332.8l3.8 1.2l-3.5 0.3l-3.8 -1.2zM827.2 333.6l3.8 1.2l-3.5 0.3l-3.8 -1.2zM822.1 334.1l3.8 1.2l-3.5 0.3l-3.8 -1.2zM837.9 334.9l3.7 1.2l-3.5 0.3l-3.7 -1.2zM853.8 335.7l3.7 1.2l-3.6 0.3l-3.7 -1.2zM848.6 336.1l3.7 1.3l-3.6 0.3l-3.7 -1.2zM864.5 337l3.7 1.2l-3.6 0.3l-3.7 -1.2zM880.6 337.8l3.6 1.2l-3.6 0.3l-3.7 -1.2zM875.2 338.2l3.6 1.3l-3.6 0.3l-3.6 -1.2zM891.3 339.1l3.6 1.2l-3.7 0.3l-3.6 -1.2zM907.5 339.9l3.6 1.2l-3.7 0.3l-3.6 -1.2zM902 340.4l3.6 1.2l-3.7 0.3l-3.6 -1.2zM918.3 341.2l3.5 1.2l-3.7 0.3l-3.6 -1.2zM934.7 342l3.5 1.2l-3.9 0.4l-3.5 -1.2zM929.1 342.5l3.5 1.2l-3.8 0.3l-3.5 -1.2zM945.5 343.3l3.4 1.2l-3.8 0.4l-3.5 -1.2zM962 344.2l3.4 1.2l-3.9 0.3l-3.4 -1.2zM956.3 344.6l3.4 1.3l-3.9 0.3l-3.4 -1.2zM972.8 345.5l3.4 1.2l-3.9 0.3l-3.4 -1.2zM989.5 346.4l3.4 1.2l-4 0.3l-3.4 -1.2zM983.6 346.8l3.4 1.2l-3.9 0.3l-3.4 -1.2zM1000.4 347.7l3.3 1.2l-4 0.3l-3.4 -1.2zM1017.2 348.5l3.3 1.2l-4.1 0.3l-3.3 -1.2zM1011.2 349l3.3 1.2l-4 0.3l-3.3 -1.2zM1028.1 349.9l3.3 1.2l-4.1 0.3l-3.3 -1.2zM1045.1 350.7l3.2 1.2l-4.1 0.3l-3.3 -1.2zM1039 351.2l3.2 1.2l-4.1 0.3l-3.3 -1.2zM1056 352.1l3.2 1.2l-4.2 0.3l-3.2 -1.2zM1066.9 353.4l3.2 1.2l-4.2 0.3l-3.2 -1.2z"/><path fill="#7bde9d" d="M728.5 327.1l4 1.2l-3.2 0.4l-4 -1.2zM723.8 327.6l4 1.2l-3.2 0.4l-3.9 -1.2zM739 328.4l3.9 1.2l-3.2 0.3l-3.9 -1.2zM754.3 329.1l3.9 1.3l-3.3 0.3l-3.9 -1.2zM749.5 329.7l3.9 1.2l-3.2 0.3l-3.9 -1.2zM764.8 330.4l3.9 1.2l-3.3 0.4l-3.9 -1.2zM780.3 331.2l3.8 1.2l-3.3 0.4l-3.9 -1.3zM775.4 331.7l3.8 1.2l-3.3 0.3l-3.9 -1.2zM790.8 332.5l3.8 1.2l-3.3 0.3l-3.8 -1.2zM806.4 333.3l3.8 1.2l-3.4 0.3l-3.8 -1.2zM801.4 333.8l3.8 1.2l-3.4 0.3l-3.8 -1.2zM817 334.5l3.8 1.3l-3.5 0.3l-3.7 -1.2zM832.7 335.3l3.8 1.3l-3.5 0.3l-3.8 -1.2zM827.6 335.8l3.7 1.2l-3.5 0.4l-3.7 -1.2zM843.4 336.6l3.7 1.2l-3.6 0.4l-3.7 -1.2zM859.2 337.4l3.7 1.2l-3.6 0.4l-3.7 -1.2zM854 337.9l3.6 1.2l-3.5 0.3l-3.7 -1.1zM869.9 338.7l3.6 1.2l-3.6 0.4l-3.6 -1.2zM885.9 339.5l3.6 1.3l-3.7 0.3l-3.6 -1.2zM880.5 340l3.6 1.2l-3.6 0.3l-3.6 -1.2zM896.6 340.8l3.6 1.2l-3.7 0.4l-3.6 -1.2zM912.8 341.7l3.5 1.2l-3.7 0.3l-3.6 -1.2zM907.3 342.1l3.5 1.2l-3.7 0.4l-3.5 -1.2zM923.5 343l3.5 1.2l-3.8 0.3l-3.5 -1.2zM939.8 343.8l3.5 1.2l-3.8 0.3l-3.5 -1.2zM934.2 344.3l3.5 1.2l-3.8 0.3l-3.5 -1.2zM950.6 345.1l3.4 1.2l-3.8 0.3l-3.5 -1.2zM967 346l3.5 1.2l-4 0.3l-3.4 -1.2zM961.3 346.4l3.4 1.2l-3.9 0.3l-3.4 -1.2zM977.8 347.3l3.4 1.2l-3.9 0.3l-3.4 -1.2zM994.5 348.1l3.3 1.2l-4 0.3l-3.3 -1.2zM988.6 348.6l3.4 1.2l-4 0.3l-3.4 -1.2zM1005.3 349.4l3.3 1.2l-4 0.3l-3.4 -1.2zM1022.1 350.3l3.3 1.2l-4.1 0.3l-3.3 -1.2zM1016.1 350.8l3.3 1.1l-4.1 0.3l-3.3 -1.1zM1032.9 351.6l3.3 1.2l-4.1 0.3l-3.3 -1.2zM1049.9 352.5l3.2 1.2l-4.2 0.3l-3.2 -1.2zM1043.7 352.9l3.3 1.2l-4.2 0.3l-3.2 -1.2zM1060.7 353.8l3.2 1.2l-4.2 0.3l-3.2 -1.2zM1071.6 355.1l3.2 1.2l-4.2 0.3l-3.2 -1.2z"/><path fill="#7edfaa" d="M734.3 328.9l3.9 1.2l-3.2 0.3l-3.9 -1.2zM729.6 329.4l3.9 1.2l-3.1 0.3l-4 -1.2zM744.8 330.2l3.9 1.2l-3.3 0.3l-3.9 -1.2zM760 330.9l3.9 1.2l-3.3 0.4l-3.9 -1.2zM755.2 331.4l3.9 1.2l-3.3 0.4l-3.8 -1.2zM770.5 332.2l3.8 1.2l-3.3 0.3l-3.8 -1.2zM785.9 333l3.8 1.2l-3.3 0.3l-3.9 -1.2zM781 333.5l3.8 1.2l-3.3 0.3l-3.8 -1.2zM796.4 334.3l3.8 1.2l-3.4 0.3l-3.8 -1.2zM812 335l3.7 1.2l-3.4 0.4l-3.8 -1.2zM806.9 335.5l3.8 1.2l-3.4 0.4l-3.8 -1.2zM822.5 336.3l3.7 1.2l-3.4 0.3l-3.8 -1.2zM838.2 337.1l3.7 1.2l-3.5 0.3l-3.7 -1.2zM833.1 337.6l3.7 1.2l-3.5 0.3l-3.7 -1.2zM848.8 338.4l3.6 1.2l-3.5 0.3l-3.7 -1.2zM864.6 339.2l3.6 1.2l-3.6 0.3l-3.6 -1.2zM859.3 339.7l3.7 1.2l-3.6 0.3l-3.6 -1.2zM875.2 340.5l3.6 1.2l-3.6 0.3l-3.6 -1.2zM891.2 341.3l3.6 1.2l-3.7 0.3l-3.6 -1.2zM885.8 341.8l3.6 1.2l-3.6 0.3l-3.6 -1.2zM901.8 342.6l3.6 1.2l-3.7 0.3l-3.6 -1.2zM918 343.4l3.5 1.2l-3.8 0.3l-3.5 -1.1zM912.5 343.9l3.5 1.2l-3.7 0.3l-3.6 -1.2zM928.6 344.7l3.5 1.2l-3.8 0.3l-3.4 -1.2zM944.9 345.6l3.5 1.2l-3.9 0.3l-3.4 -1.2zM939.3 346l3.5 1.2l-3.8 0.3l-3.5 -1.2zM955.6 346.9l3.4 1.2l-3.8 0.3l-3.4 -1.2zM972 347.7l3.4 1.2l-3.9 0.3l-3.4 -1.2zM966.3 348.2l3.4 1.2l-3.9 0.3l-3.4 -1.2zM982.8 349l3.3 1.2l-3.9 0.3l-3.4 -1.2zM999.4 349.9l3.3 1.2l-4 0.3l-3.3 -1.2zM993.5 350.3l3.4 1.2l-4 0.3l-3.4 -1.2zM1010.1 351.2l3.3 1.2l-4 0.3l-3.3 -1.2zM1026.9 352.1l3.2 1.2l-4 0.2l-3.3 -1.1zM1020.9 352.5l3.3 1.2l-4.1 0.3l-3.3 -1.2zM1037.7 353.4l3.2 1.2l-4.1 0.3l-3.2 -1.2zM1054.6 354.3l3.2 1.1l-4.2 0.3l-3.2 -1.2zM1048.5 354.7l3.2 1.2l-4.1 0.3l-3.3 -1.2zM1065.4 355.6l3.2 1.2l-4.2 0.2l-3.2 -1.1zM1076.2 356.9l3.2 1.2l-4.2 0.3l-3.2 -1.2z"/><path fill="#7fdfb2" d="M740 330.7l3.9 1.2l-3.2 0.3l-3.9 -1.2zM735.4 331.2l3.8 1.1l-3.1 0.4l-3.9 -1.2zM750.5 331.9l3.8 1.2l-3.2 0.3l-3.9 -1.1zM765.7 332.7l3.8 1.2l-3.3 0.3l-3.8 -1.2zM760.9 333.2l3.8 1.2l-3.2 0.3l-3.9 -1.2zM776.1 334l3.8 1.2l-3.3 0.3l-3.8 -1.2zM791.5 334.7l3.8 1.2l-3.4 0.4l-3.8 -1.2zM786.6 335.2l3.7 1.2l-3.3 0.3l-3.8 -1.1zM802 336l3.7 1.2l-3.4 0.3l-3.7 -1.2zM817.4 336.8l3.8 1.2l-3.5 0.3l-3.7 -1.2zM812.4 337.3l3.8 1.2l-3.5 0.3l-3.7 -1.2zM828 338.1l3.7 1.2l-3.5 0.3l-3.7 -1.2zM843.6 338.9l3.7 1.2l-3.5 0.3l-3.7 -1.2zM838.5 339.3l3.6 1.2l-3.5 0.4l-3.6 -1.2zM854.1 340.2l3.7 1.1l-3.6 0.4l-3.6 -1.2zM869.9 341l3.6 1.2l-3.6 0.3l-3.6 -1.2zM864.7 341.4l3.6 1.2l-3.6 0.3l-3.6 -1.1zM880.5 342.2l3.6 1.2l-3.6 0.3l-3.6 -1.1zM896.4 343.1l3.6 1.2l-3.7 0.3l-3.5 -1.2zM891.1 343.5l3.5 1.2l-3.6 0.3l-3.6 -1.2zM907 344.4l3.5 1.1l-3.6 0.4l-3.6 -1.2zM923.1 345.2l3.5 1.2l-3.7 0.3l-3.5 -1.2zM917.6 345.6l3.5 1.2l-3.7 0.3l-3.5 -1.1zM933.7 346.5l3.5 1.2l-3.8 0.3l-3.4 -1.2zM950 347.3l3.4 1.2l-3.8 0.3l-3.5 -1.2zM944.4 347.8l3.4 1.1l-3.8 0.3l-3.4 -1.1zM960.6 348.6l3.4 1.2l-3.8 0.3l-3.4 -1.2zM977 349.5l3.4 1.2l-3.9 0.2l-3.4 -1.1zM971.3 349.9l3.4 1.2l-3.9 0.3l-3.4 -1.2zM987.7 350.8l3.4 1.1l-4 0.3l-3.3 -1.1zM1004.2 351.6l3.4 1.2l-4 0.3l-3.4 -1.2zM998.4 352.1l3.3 1.1l-4 0.3l-3.3 -1.1zM1015 352.9l3.3 1.2l-4.1 0.3l-3.3 -1.2zM1031.7 353.8l3.2 1.2l-4.1 0.3l-3.2 -1.2zM1025.7 354.2l3.2 1.2l-4 0.3l-3.3 -1.2zM1042.4 355.1l3.2 1.2l-4.1 0.3l-3.2 -1.2zM1059.3 356l3.2 1.2l-4.2 0.3l-3.2 -1.2zM1053.2 356.4l3.2 1.2l-4.2 0.3l-3.2 -1.2zM1070.1 357.3l3.1 1.2l-4.2 0.3l-3.1 -1.2zM1080.8 358.6l3.2 1.2l-4.3 0.3l-3.1 -1.2z"/><path fill="#7ddbb7" d="M745.7 332.4l3.9 1.2l-3.2 0.3l-3.9 -1.2zM741 332.9l3.9 1.2l-3.2 0.3l-3.8 -1.2zM756.1 333.7l3.9 1.2l-3.3 0.3l-3.8 -1.2zM771.3 334.4l3.8 1.2l-3.3 0.4l-3.8 -1.2zM766.5 334.9l3.8 1.2l-3.3 0.3l-3.8 -1.1zM781.7 335.7l3.8 1.2l-3.3 0.3l-3.8 -1.2zM797 336.5l3.8 1.2l-3.4 0.3l-3.8 -1.2zM792.1 337l3.8 1.2l-3.4 0.3l-3.7 -1.2zM807.4 337.8l3.8 1.1l-3.4 0.4l-3.7 -1.2zM822.9 338.5l3.7 1.2l-3.4 0.4l-3.7 -1.2zM817.9 339l3.7 1.2l-3.4 0.3l-3.7 -1.2zM833.4 339.8l3.6 1.2l-3.4 0.3l-3.7 -1.2zM849 340.6l3.6 1.2l-3.5 0.3l-3.6 -1.2zM843.8 341.1l3.7 1.2l-3.5 0.3l-3.7 -1.2zM859.5 341.9l3.6 1.2l-3.6 0.3l-3.6 -1.2zM875.2 342.7l3.6 1.2l-3.6 0.3l-3.6 -1.2zM870 343.2l3.5 1.1l-3.5 0.4l-3.6 -1.2zM885.7 344l3.6 1.2l-3.6 0.3l-3.6 -1.2zM901.6 344.8l3.5 1.2l-3.6 0.3l-3.6 -1.2zM896.3 345.3l3.5 1.1l-3.7 0.3l-3.5 -1.1zM912.2 346.1l3.5 1.2l-3.7 0.3l-3.5 -1.2zM928.2 346.9l3.5 1.2l-3.8 0.3l-3.4 -1.2zM922.7 347.4l3.5 1.1l-3.7 0.3l-3.5 -1.1zM938.8 348.2l3.4 1.2l-3.7 0.3l-3.5 -1.2zM955 349.1l3.4 1.1l-3.8 0.3l-3.4 -1.1zM949.4 349.5l3.4 1.2l-3.8 0.3l-3.4 -1.2zM965.6 350.3l3.4 1.2l-3.9 0.3l-3.4 -1.2zM981.9 351.2l3.4 1.2l-3.9 0.3l-3.4 -1.2zM976.2 351.6l3.4 1.2l-3.9 0.3l-3.4 -1.2zM992.6 352.5l3.3 1.2l-3.9 0.3l-3.3 -1.2zM1009.1 353.4l3.3 1.1l-4 0.3l-3.3 -1.1zM1003.2 353.8l3.3 1.2l-3.9 0.2l-3.3 -1.1zM1019.8 354.7l3.2 1.1l-4 0.3l-3.3 -1.2zM1013.9 355.1l3.2 1.1l-3.9 0.3l-3.3 -1.1zM1036.4 355.5l3.2 1.2l-4 0.3l-3.3 -1.2zM1030.4 356l3.3 1.1l-4.1 0.3l-3.2 -1.2zM1047.1 356.8l3.2 1.2l-4.1 0.3l-3.2 -1.2zM1041.1 357.2l3.2 1.2l-4.1 0.3l-3.2 -1.2zM1063.9 357.7l3.2 1.2l-4.2 0.3l-3.1 -1.2zM1057.8 358.1l3.2 1.2l-4.1 0.3l-3.2 -1.2zM1074.7 359l3.1 1.2l-4.2 0.3l-3.1 -1.2zM1068.5 359.4l3.2 1.2l-4.2 0.3l-3.1 -1.2zM1085.4 360.3l3.1 1.2l-4.2 0.3l-3.1 -1.2z"/><path fill="#7ad8bb" d="M751.4 334.2l3.8 1.1l-3.2 0.4l-3.8 -1.2zM746.7 334.6l3.8 1.2l-3.2 0.3l-3.8 -1.1zM761.7 335.4l3.8 1.2l-3.2 0.3l-3.8 -1.2zM776.9 336.2l3.7 1.2l-3.2 0.3l-3.8 -1.2zM772.1 336.7l3.7 1.1l-3.2 0.4l-3.8 -1.2zM787.2 337.4l3.8 1.2l-3.3 0.3l-3.8 -1.1zM802.5 338.2l3.7 1.2l-3.3 0.3l-3.8 -1.2zM797.6 338.7l3.7 1.2l-3.3 0.3l-3.8 -1.2zM812.9 339.5l3.7 1.2l-3.4 0.3l-3.7 -1.2zM828.3 340.3l3.7 1.2l-3.5 0.3l-3.6 -1.2zM823.3 340.7l3.7 1.2l-3.5 0.3l-3.6 -1.1zM838.7 341.5l3.7 1.2l-3.5 0.3l-3.6 -1.1zM854.3 342.4l3.6 1.1l-3.5 0.3l-3.6 -1.1zM849.2 342.8l3.6 1.2l-3.5 0.3l-3.6 -1.2zM864.7 343.6l3.6 1.2l-3.5 0.3l-3.6 -1.2zM880.4 344.4l3.6 1.2l-3.6 0.3l-3.5 -1.2zM875.2 344.9l3.6 1.2l-3.6 0.3l-3.6 -1.2zM890.9 345.7l3.6 1.2l-3.7 0.3l-3.5 -1.2zM906.8 346.5l3.5 1.2l-3.7 0.3l-3.5 -1.2zM901.4 347l3.5 1.2l-3.6 0.2l-3.5 -1.1zM917.3 347.8l3.5 1.2l-3.7 0.3l-3.5 -1.2zM933.3 348.7l3.4 1.1l-3.7 0.3l-3.5 -1.1zM927.8 349.1l3.5 1.2l-3.8 0.2l-3.4 -1.1zM943.8 349.9l3.4 1.2l-3.7 0.3l-3.5 -1.2zM938.3 350.4l3.4 1.1l-3.7 0.3l-3.4 -1.1zM960 350.8l3.4 1.1l-3.9 0.3l-3.4 -1.1zM954.4 351.2l3.4 1.2l-3.8 0.3l-3.4 -1.2zM970.5 352.1l3.4 1.1l-3.9 0.3l-3.3 -1.1zM964.9 352.5l3.4 1.2l-3.9 0.2l-3.3 -1.1zM986.8 352.9l3.4 1.2l-4 0.3l-3.3 -1.2zM981.1 353.3l3.3 1.2l-3.8 0.3l-3.4 -1.2zM997.4 354.2l3.3 1.2l-3.9 0.3l-3.3 -1.2zM991.7 354.6l3.3 1.2l-3.9 0.3l-3.3 -1.2zM1008 355.5l3.3 1.2l-4 0.2l-3.2 -1.1zM1024.5 356.4l3.3 1.1l-4.1 0.3l-3.2 -1.2zM1018.6 356.8l3.3 1.1l-4 0.3l-3.3 -1.1zM1035.2 357.7l3.2 1.1l-4.1 0.3l-3.2 -1.2zM1051.8 358.5l3.2 1.2l-4.1 0.3l-3.2 -1.2zM1045.8 358.9l3.2 1.2l-4.1 0.3l-3.2 -1.2zM1062.5 359.8l3.1 1.2l-4.1 0.3l-3.2 -1.2zM1079.2 360.7l3.1 1.2l-4.1 0.3l-3.2 -1.2zM1073.1 361.1l3.1 1.2l-4.1 0.3l-3.2 -1.2z"/><path fill="#78d5c0" d="M757 335.9l3.8 1.2l-3.2 0.3l-3.8 -1.2zM752.3 336.4l3.8 1.1l-3.2 0.3l-3.8 -1.1zM767.3 337.1l3.8 1.2l-3.3 0.3l-3.8 -1.2zM782.4 337.9l3.7 1.2l-3.2 0.3l-3.8 -1.2zM777.6 338.4l3.7 1.1l-3.2 0.4l-3.8 -1.2zM792.7 339.2l3.7 1.1l-3.3 0.3l-3.7 -1.1zM807.9 339.9l3.8 1.2l-3.4 0.3l-3.7 -1.1zM803 340.4l3.7 1.2l-3.3 0.3l-3.7 -1.2zM818.3 341.2l3.7 1.2l-3.4 0.3l-3.7 -1.2zM833.7 342l3.6 1.2l-3.4 0.3l-3.7 -1.2zM828.7 342.5l3.6 1.1l-3.4 0.3l-3.7 -1.1zM844.1 343.3l3.6 1.1l-3.5 0.3l-3.6 -1.1zM839 343.7l3.6 1.2l-3.4 0.3l-3.6 -1.2zM859.6 344.1l3.6 1.1l-3.6 0.3l-3.5 -1.1zM854.4 344.5l3.6 1.2l-3.5 0.3l-3.6 -1.2zM870 345.3l3.6 1.2l-3.6 0.3l-3.6 -1.2zM864.8 345.8l3.6 1.1l-3.5 0.3l-3.6 -1.1zM885.6 346.2l3.6 1.1l-3.6 0.3l-3.6 -1.1zM880.4 346.6l3.5 1.2l-3.5 0.3l-3.6 -1.2zM896.1 347.4l3.5 1.2l-3.6 0.3l-3.5 -1.2zM890.8 347.9l3.5 1.1l-3.6 0.3l-3.5 -1.1zM911.9 348.3l3.5 1.1l-3.7 0.3l-3.5 -1.1zM906.5 348.7l3.5 1.1l-3.6 0.3l-3.5 -1.1zM922.4 349.5l3.4 1.2l-3.7 0.3l-3.4 -1.2zM917 350l3.4 1.1l-3.7 0.3l-3.4 -1.2zM932.8 350.8l3.5 1.2l-3.8 0.2l-3.4 -1.1zM948.8 351.6l3.4 1.2l-3.8 0.3l-3.4 -1.2zM943.3 352.1l3.4 1.1l-3.8 0.3l-3.4 -1.1zM959.3 352.9l3.4 1.2l-3.8 0.3l-3.4 -1.2zM975.4 353.8l3.4 1.1l-3.9 0.3l-3.3 -1.1zM969.8 354.2l3.4 1.1l-3.9 0.3l-3.3 -1.1zM986 355l3.3 1.2l-3.9 0.3l-3.3 -1.2zM1002.3 355.9l3.2 1.2l-3.9 0.2l-3.3 -1.1zM996.5 356.3l3.3 1.2l-3.9 0.2l-3.3 -1.1zM1012.8 357.2l3.3 1.1l-4 0.3l-3.3 -1.1zM1029.2 358.1l3.3 1.1l-4.1 0.3l-3.2 -1.2zM1023.4 358.5l3.2 1.1l-4 0.3l-3.2 -1.2zM1039.8 359.3l3.2 1.2l-4 0.3l-3.2 -1.2zM1056.4 360.2l3.2 1.2l-4.1 0.3l-3.2 -1.2zM1050.4 360.6l3.2 1.2l-4.1 0.2l-3.2 -1.1zM1067 361.5l3.2 1.2l-4.2 0.2l-3.1 -1.1z"/><path fill="#76d2c5" d="M762.6 337.6l3.7 1.2l-3.2 0.3l-3.8 -1.2zM757.9 338.1l3.7 1.1l-3.2 0.3l-3.7 -1.1zM772.8 338.8l3.8 1.2l-3.3 0.3l-3.7 -1.1zM768.1 339.3l3.7 1.2l-3.2 0.3l-3.7 -1.2zM787.9 339.6l3.7 1.2l-3.3 0.3l-3.7 -1.2zM783.1 340.1l3.7 1.1l-3.3 0.3l-3.7 -1.1zM798.2 340.9l3.7 1.1l-3.4 0.3l-3.7 -1.1zM793.3 341.3l3.7 1.2l-3.3 0.3l-3.7 -1.2zM813.4 341.7l3.6 1.1l-3.3 0.3l-3.7 -1.1zM808.4 342.1l3.7 1.2l-3.3 0.3l-3.7 -1.2zM823.7 342.9l3.6 1.2l-3.4 0.3l-3.6 -1.2zM818.7 343.4l3.7 1.1l-3.4 0.3l-3.7 -1.1zM834 344.2l3.6 1.1l-3.4 0.3l-3.6 -1.1zM849.3 345l3.6 1.1l-3.4 0.3l-3.6 -1.1zM844.3 345.4l3.6 1.2l-3.5 0.3l-3.6 -1.2zM859.7 346.2l3.6 1.2l-3.5 0.3l-3.6 -1.2zM875.2 347l3.5 1.2l-3.5 0.3l-3.6 -1.2zM870 347.5l3.6 1.1l-3.6 0.3l-3.5 -1.1zM885.6 348.3l3.5 1.1l-3.6 0.3l-3.5 -1.1zM901.2 349.1l3.5 1.2l-3.6 0.3l-3.5 -1.2zM895.9 349.5l3.5 1.2l-3.6 0.3l-3.5 -1.2zM911.6 350.4l3.5 1.1l-3.7 0.3l-3.4 -1.1zM927.4 351.2l3.4 1.2l-3.7 0.3l-3.4 -1.2zM922 351.6l3.4 1.2l-3.6 0.3l-3.5 -1.2zM937.8 352.5l3.4 1.1l-3.7 0.3l-3.4 -1.1zM953.8 353.3l3.3 1.2l-3.7 0.3l-3.4 -1.2zM948.3 353.7l3.3 1.2l-3.7 0.3l-3.4 -1.2zM964.2 354.6l3.4 1.1l-3.8 0.3l-3.4 -1.1zM980.3 355.5l3.3 1.1l-3.8 0.3l-3.4 -1.2zM974.7 355.9l3.3 1.1l-3.8 0.3l-3.4 -1.2zM990.8 356.7l3.3 1.2l-3.9 0.2l-3.3 -1.1zM1007 357.6l3.3 1.1l-4 0.3l-3.2 -1.1zM1001.3 358l3.2 1.1l-3.9 0.3l-3.2 -1.1zM1017.5 358.9l3.3 1.1l-4 0.3l-3.2 -1.2zM1033.9 359.7l3.2 1.2l-4 0.3l-3.2 -1.2zM1028.1 360.1l3.2 1.2l-4 0.3l-3.2 -1.2zM1044.5 361l3.1 1.2l-4 0.2l-3.2 -1.1zM1061 361.9l3.1 1.2l-4.1 0.2l-3.1 -1.1zM1055 362.3l3.2 1.1l-4.1 0.3l-3.2 -1.1z"/><path fill="#73cec8" d="M763.4 339.8l3.7 1.1l-3.2 0.3l-3.7 -1.1zM778.3 340.5l3.7 1.2l-3.2 0.3l-3.8 -1.2zM773.6 341l3.7 1.1l-3.2 0.3l-3.8 -1.1zM788.5 341.8l3.7 1.1l-3.3 0.3l-3.7 -1.1zM803.6 342.6l3.6 1.1l-3.3 0.3l-3.7 -1.1zM798.7 343l3.7 1.2l-3.3 0.3l-3.7 -1.2zM813.8 343.8l3.7 1.2l-3.4 0.3l-3.6 -1.2zM829 344.6l3.6 1.2l-3.4 0.3l-3.6 -1.2zM824 345l3.7 1.2l-3.4 0.3l-3.6 -1.2zM839.3 345.8l3.6 1.2l-3.5 0.3l-3.6 -1.2zM854.6 346.7l3.6 1.1l-3.5 0.3l-3.6 -1.1zM849.5 347.1l3.6 1.1l-3.4 0.3l-3.6 -1.1zM864.9 347.9l3.5 1.2l-3.5 0.2l-3.5 -1.1zM880.4 348.7l3.5 1.2l-3.6 0.3l-3.5 -1.2zM875.2 349.2l3.5 1.1l-3.5 0.3l-3.5 -1.2zM890.7 350l3.5 1.1l-3.6 0.3l-3.5 -1.1zM906.3 350.8l3.4 1.2l-3.6 0.2l-3.4 -1.1zM901 351.2l3.5 1.2l-3.6 0.3l-3.5 -1.2zM916.6 352.1l3.5 1.1l-3.7 0.3l-3.4 -1.2zM932.4 352.9l3.4 1.1l-3.7 0.3l-3.4 -1.1zM927 353.3l3.4 1.2l-3.7 0.2l-3.4 -1.1zM942.8 354.2l3.4 1.1l-3.8 0.3l-3.4 -1.2zM958.7 355l3.3 1.2l-3.8 0.2l-3.3 -1.1zM953.2 355.4l3.3 1.2l-3.7 0.2l-3.4 -1.1zM969.1 356.3l3.3 1.1l-3.8 0.3l-3.3 -1.2zM985.1 357.1l3.3 1.2l-3.8 0.2l-3.3 -1.1zM979.5 357.5l3.3 1.2l-3.8 0.2l-3.3 -1.1zM995.6 358.4l3.2 1.1l-3.9 0.3l-3.2 -1.1zM1011.8 359.3l3.2 1.1l-4 0.3l-3.2 -1.2zM1006 359.7l3.3 1.1l-4 0.3l-3.2 -1.2zM1022.2 360.5l3.2 1.2l-3.9 0.2l-3.2 -1.1zM1038.6 361.4l3.1 1.2l-4 0.2l-3.2 -1.1zM1032.7 361.8l3.2 1.1l-4 0.3l-3.2 -1.1zM1049.1 362.7l3.1 1.1l-4 0.3l-3.2 -1.1z"/><path fill="#6dc5ca" d="M768.9 341.4l3.7 1.2l-3.2 0.3l-3.8 -1.2zM783.7 342.2l3.8 1.2l-3.3 0.3l-3.7 -1.2zM779 342.7l3.7 1.1l-3.2 0.3l-3.7 -1.1zM793.9 343.4l3.7 1.2l-3.3 0.3l-3.7 -1.1zM808.9 344.2l3.7 1.2l-3.3 0.3l-3.7 -1.2zM804.1 344.7l3.6 1.1l-3.3 0.3l-3.6 -1.1zM819.1 345.5l3.7 1.1l-3.4 0.3l-3.6 -1.1zM834.3 346.3l3.6 1.1l-3.4 0.3l-3.6 -1.1zM829.3 346.7l3.6 1.2l-3.3 0.2l-3.7 -1.1zM844.5 347.5l3.6 1.2l-3.4 0.3l-3.6 -1.2zM859.8 348.3l3.5 1.2l-3.4 0.3l-3.6 -1.2zM854.7 348.8l3.6 1.1l-3.5 0.3l-3.5 -1.2zM870.1 349.6l3.5 1.1l-3.5 0.3l-3.6 -1.1zM885.5 350.4l3.5 1.1l-3.6 0.3l-3.5 -1.1zM880.3 350.8l3.5 1.2l-3.5 0.2l-3.5 -1.1zM895.8 351.6l3.4 1.2l-3.5 0.3l-3.5 -1.2zM911.3 352.5l3.5 1.1l-3.7 0.3l-3.4 -1.1zM906 352.9l3.5 1.1l-3.6 0.3l-3.5 -1.1zM921.6 353.7l3.5 1.2l-3.7 0.2l-3.4 -1.1zM937.4 354.6l3.3 1.1l-3.7 0.3l-3.4 -1.2zM932 355l3.3 1.1l-3.6 0.3l-3.4 -1.1zM947.7 355.8l3.4 1.2l-3.8 0.2l-3.3 -1.1zM963.5 356.7l3.4 1.1l-3.8 0.3l-3.3 -1.1zM958 357.1l3.4 1.1l-3.8 0.3l-3.3 -1.1zM973.9 357.9l3.3 1.2l-3.8 0.2l-3.3 -1.1zM989.9 358.8l3.3 1.1l-3.9 0.3l-3.2 -1.1zM984.3 359.2l3.3 1.1l-3.9 0.3l-3.2 -1.1zM1000.3 360.1l3.3 1.1l-3.9 0.3l-3.3 -1.2zM1016.5 360.9l3.2 1.2l-4 0.2l-3.2 -1.1zM1010.7 361.3l3.2 1.1l-3.9 0.3l-3.2 -1.1zM1026.9 362.2l3.2 1.1l-4 0.3l-3.2 -1.1zM1043.2 363.1l3.1 1.1l-4 0.3l-3.1 -1.2zM1037.3 363.5l3.2 1.1l-4 0.2l-3.2 -1.1z"/><path fill="#68bccb" d="M774.3 343.1l3.7 1.1l-3.2 0.3l-3.7 -1.1zM789.1 343.9l3.7 1.1l-3.2 0.3l-3.7 -1.1zM784.4 344.3l3.7 1.2l-3.3 0.3l-3.6 -1.2zM799.3 345.1l3.6 1.2l-3.3 0.2l-3.6 -1.1zM814.2 345.9l3.7 1.2l-3.3 0.2l-3.7 -1.1zM809.4 346.3l3.6 1.2l-3.3 0.3l-3.6 -1.2zM824.4 347.1l3.6 1.2l-3.3 0.3l-3.6 -1.2zM839.5 347.9l3.6 1.2l-3.4 0.3l-3.6 -1.2zM834.6 348.4l3.6 1.1l-3.4 0.3l-3.6 -1.1zM849.7 349.2l3.6 1.1l-3.5 0.3l-3.5 -1.1zM865 350l3.5 1.1l-3.5 0.3l-3.5 -1.1zM859.9 350.4l3.5 1.1l-3.4 0.3l-3.6 -1.1zM875.2 351.2l3.5 1.2l-3.5 0.2l-3.5 -1.1zM890.6 352.1l3.4 1.1l-3.5 0.3l-3.5 -1.2zM885.4 352.5l3.5 1.1l-3.6 0.3l-3.4 -1.1zM900.8 353.3l3.5 1.1l-3.6 0.3l-3.5 -1.1zM916.3 354.1l3.4 1.2l-3.6 0.2l-3.4 -1.1zM911.1 354.5l3.4 1.2l-3.6 0.2l-3.5 -1.1zM926.6 355.4l3.4 1.1l-3.7 0.3l-3.3 -1.1zM942.3 356.2l3.3 1.2l-3.7 0.2l-3.3 -1.1zM936.9 356.6l3.3 1.2l-3.6 0.2l-3.4 -1.1zM952.6 357.5l3.3 1.1l-3.7 0.3l-3.4 -1.2zM968.4 358.3l3.3 1.2l-3.8 0.2l-3.3 -1.1zM962.9 358.7l3.3 1.1l-3.8 0.3l-3.3 -1.1zM978.7 359.6l3.3 1.1l-3.8 0.3l-3.3 -1.1zM994.7 360.4l3.2 1.2l-3.9 0.2l-3.2 -1.1zM989 360.8l3.3 1.2l-3.8 0.2l-3.3 -1.1zM1005 361.7l3.2 1.1l-3.8 0.3l-3.3 -1.1zM1021.1 362.6l3.2 1.1l-3.9 0.3l-3.2 -1.2zM1015.4 363l3.2 1.1l-3.9 0.2l-3.2 -1.1zM1031.5 363.8l3.2 1.2l-4 0.2l-3.2 -1.1z"/><path fill="#62b3cc" d="M779.7 344.8l3.7 1.1l-3.2 0.3l-3.7 -1.1zM794.5 345.5l3.7 1.2l-3.3 0.3l-3.7 -1.2zM789.8 346l3.6 1.1l-3.2 0.3l-3.7 -1.1zM804.6 346.8l3.6 1.1l-3.3 0.3l-3.6 -1.1zM819.5 347.6l3.6 1.1l-3.3 0.3l-3.6 -1.1zM814.7 348l3.6 1.1l-3.3 0.3l-3.6 -1.1zM829.7 348.8l3.5 1.1l-3.3 0.3l-3.6 -1.1zM844.7 349.6l3.6 1.1l-3.4 0.3l-3.6 -1.1zM839.8 350l3.5 1.1l-3.4 0.3l-3.5 -1.1zM854.9 350.8l3.5 1.2l-3.4 0.2l-3.6 -1.1zM870.1 351.6l3.5 1.2l-3.5 0.3l-3.5 -1.2zM865 352.1l3.5 1.1l-3.4 0.3l-3.5 -1.2zM880.3 352.9l3.4 1.1l-3.5 0.3l-3.4 -1.1zM895.6 353.7l3.5 1.1l-3.6 0.3l-3.5 -1.1zM890.4 354.1l3.5 1.1l-3.5 0.3l-3.5 -1.1zM905.8 354.9l3.4 1.2l-3.5 0.2l-3.5 -1.1zM921.3 355.8l3.4 1.1l-3.6 0.3l-3.4 -1.1zM916 356.2l3.4 1.1l-3.6 0.3l-3.4 -1.1zM931.5 357l3.4 1.1l-3.7 0.3l-3.3 -1.1zM947.2 357.9l3.3 1.1l-3.7 0.3l-3.4 -1.2zM941.8 358.3l3.3 1.1l-3.7 0.2l-3.3 -1.1zM957.4 359.1l3.3 1.1l-3.7 0.3l-3.3 -1.1zM973.2 360l3.3 1.1l-3.8 0.3l-3.3 -1.2zM967.7 360.4l3.3 1.1l-3.8 0.2l-3.3 -1.1zM983.5 361.2l3.2 1.1l-3.8 0.3l-3.2 -1.1zM999.4 362.1l3.2 1.1l-3.9 0.3l-3.2 -1.2zM993.8 362.5l3.2 1.1l-3.8 0.2l-3.3 -1.1zM1009.7 363.3l3.2 1.2l-3.9 0.2l-3.2 -1.1zM1025.7 364.2l3.2 1.1l-3.9 0.3l-3.2 -1.1zM1020 364.6l3.2 1.1l-3.9 0.3l-3.2 -1.2z"/><path fill="#5daace" d="M785.1 346.4l3.6 1.1l-3.2 0.3l-3.7 -1.1zM799.8 347.2l3.7 1.1l-3.3 0.3l-3.6 -1.1zM795.1 347.6l3.6 1.1l-3.2 0.3l-3.7 -1.1zM809.9 348.4l3.6 1.1l-3.3 0.3l-3.6 -1.1zM824.8 349.2l3.6 1.1l-3.4 0.3l-3.6 -1.1zM819.9 349.6l3.6 1.1l-3.3 0.3l-3.6 -1.1zM834.9 350.4l3.5 1.2l-3.3 0.2l-3.6 -1.1zM849.9 351.2l3.5 1.2l-3.4 0.2l-3.5 -1.1zM844.9 351.7l3.6 1.1l-3.4 0.2l-3.5 -1.1zM860 352.5l3.5 1.1l-3.4 0.3l-3.5 -1.2zM875.2 353.3l3.5 1.1l-3.5 0.3l-3.5 -1.1zM870.1 353.7l3.5 1.1l-3.5 0.3l-3.4 -1.1zM885.3 354.5l3.5 1.1l-3.5 0.3l-3.5 -1.1zM900.6 355.3l3.4 1.2l-3.5 0.2l-3.4 -1.1zM895.4 355.7l3.5 1.2l-3.6 0.2l-3.4 -1.1zM910.8 356.6l3.4 1.1l-3.6 0.3l-3.4 -1.2zM926.2 357.4l3.4 1.1l-3.6 0.3l-3.4 -1.1zM920.9 357.8l3.4 1.1l-3.6 0.3l-3.4 -1.1zM936.4 358.7l3.4 1.1l-3.7 0.2l-3.3 -1.1zM952 359.5l3.3 1.1l-3.7 0.3l-3.3 -1.1zM946.6 359.9l3.3 1.1l-3.7 0.3l-3.3 -1.1zM962.2 360.7l3.3 1.2l-3.7 0.2l-3.3 -1.1zM977.9 361.6l3.3 1.1l-3.8 0.3l-3.2 -1.1zM972.4 362l3.3 1.1l-3.8 0.2l-3.2 -1.1zM988.2 362.8l3.2 1.2l-3.8 0.2l-3.2 -1.1zM1004.1 363.7l3.1 1.1l-3.8 0.3l-3.2 -1.1zM998.4 364.1l3.2 1.1l-3.8 0.2l-3.2 -1.1zM1014.3 365l3.2 1.1l-3.9 0.2l-3.2 -1.1zM1008.7 365.3l3.2 1.1l-3.9 0.3l-3.2 -1.1z"/><path fill="#57a1cf" d="M790.4 348l3.6 1.1l-3.2 0.3l-3.7 -1.1zM805.1 348.8l3.6 1.1l-3.3 0.3l-3.6 -1.1zM800.4 349.2l3.6 1.2l-3.3 0.2l-3.6 -1.1zM815.1 350l3.6 1.2l-3.3 0.2l-3.6 -1.1zM830 350.8l3.5 1.2l-3.3 0.2l-3.6 -1.1zM825.1 351.2l3.6 1.2l-3.3 0.2l-3.6 -1.1zM840 352.1l3.6 1.1l-3.4 0.2l-3.5 -1.1zM855 352.9l3.5 1.1l-3.4 0.3l-3.5 -1.2zM850.1 353.3l3.5 1.1l-3.4 0.3l-3.5 -1.2zM865.1 354.1l3.5 1.1l-3.5 0.3l-3.4 -1.1zM880.2 354.9l3.5 1.1l-3.5 0.3l-3.5 -1.1zM875.2 355.3l3.4 1.1l-3.4 0.3l-3.5 -1.1zM890.3 356.1l3.5 1.1l-3.6 0.3l-3.4 -1.1zM905.6 357l3.4 1.1l-3.6 0.2l-3.4 -1.1zM900.4 357.4l3.4 1.1l-3.5 0.2l-3.4 -1.1zM915.7 358.2l3.4 1.1l-3.6 0.3l-3.4 -1.1zM931.1 359l3.4 1.1l-3.7 0.3l-3.3 -1.1zM925.8 359.4l3.4 1.1l-3.6 0.3l-3.4 -1.1zM941.3 360.3l3.3 1.1l-3.7 0.2l-3.3 -1.1zM936 360.6l3.3 1.2l-3.6 0.2l-3.4 -1.1zM956.8 361.1l3.3 1.1l-3.7 0.3l-3.3 -1.1zM951.4 361.5l3.3 1.1l-3.7 0.3l-3.3 -1.1zM967 362.4l3.3 1.1l-3.8 0.2l-3.2 -1.1zM961.6 362.7l3.2 1.1l-3.7 0.3l-3.2 -1.1zM982.7 363.2l3.2 1.1l-3.8 0.3l-3.2 -1.1zM977.2 363.6l3.2 1.1l-3.8 0.2l-3.2 -1.1zM992.9 364.5l3.2 1.1l-3.8 0.2l-3.2 -1.1zM987.4 364.8l3.2 1.1l-3.8 0.3l-3.2 -1.1zM1003.1 365.7l3.2 1.1l-3.9 0.2l-3.2 -1.1z"/><path fill="#5298d0" d="M795.6 349.7l3.7 1.1l-3.3 0.2l-3.6 -1.1zM810.3 350.4l3.6 1.2l-3.2 0.2l-3.6 -1.1zM805.6 350.9l3.6 1.1l-3.3 0.2l-3.6 -1.1zM820.3 351.7l3.6 1.1l-3.3 0.2l-3.6 -1.1zM835.1 352.5l3.6 1.1l-3.4 0.2l-3.5 -1.1zM830.3 352.9l3.5 1.1l-3.3 0.2l-3.5 -1.1zM845.2 353.7l3.5 1.1l-3.4 0.3l-3.5 -1.2zM840.3 354.1l3.5 1.1l-3.4 0.2l-3.5 -1.1zM860.1 354.5l3.5 1.1l-3.4 0.3l-3.5 -1.1zM855.2 354.9l3.4 1.1l-3.3 0.3l-3.5 -1.1zM870.1 355.7l3.5 1.1l-3.4 0.3l-3.5 -1.1zM865.2 356.1l3.4 1.1l-3.4 0.3l-3.5 -1.1zM885.2 356.5l3.5 1.1l-3.5 0.3l-3.5 -1.1zM880.2 356.9l3.4 1.1l-3.5 0.3l-3.4 -1.1zM895.3 357.7l3.4 1.2l-3.5 0.2l-3.4 -1.1zM890.2 358.1l3.4 1.1l-3.5 0.3l-3.4 -1.1zM910.5 358.6l3.4 1.1l-3.6 0.2l-3.3 -1.1zM905.4 359l3.3 1.1l-3.5 0.2l-3.4 -1.1zM920.6 359.8l3.4 1.1l-3.6 0.3l-3.4 -1.1zM915.4 360.2l3.4 1.1l-3.6 0.2l-3.4 -1.1zM930.7 361l3.3 1.1l-3.6 0.3l-3.3 -1.1zM946.1 361.9l3.3 1.1l-3.7 0.2l-3.3 -1.1zM940.8 362.2l3.3 1.1l-3.7 0.3l-3.3 -1.1zM956.2 363.1l3.3 1.1l-3.7 0.2l-3.3 -1zM971.7 364l3.3 1.1l-3.8 0.2l-3.2 -1.1zM966.3 364.3l3.3 1.1l-3.8 0.3l-3.2 -1.1zM981.9 365.2l3.2 1.1l-3.8 0.2l-3.2 -1.1zM997.5 366.1l3.2 1l-3.8 0.3l-3.2 -1.1zM992 366.4l3.2 1.1l-3.8 0.2l-3.2 -1z"/><path fill="#4c8ed0" d="M800.9 351.3l3.6 1.1l-3.3 0.2l-3.5 -1.1zM815.5 352.1l3.6 1.1l-3.3 0.2l-3.5 -1.1zM810.8 352.5l3.6 1.1l-3.3 0.2l-3.6 -1.1zM825.5 353.3l3.5 1.1l-3.3 0.2l-3.5 -1.1zM820.7 353.7l3.6 1.1l-3.3 0.2l-3.6 -1.1zM835.4 354.5l3.5 1.1l-3.3 0.2l-3.5 -1.1zM850.2 355.3l3.5 1.1l-3.3 0.2l-3.5 -1.1zM845.4 355.7l3.5 1.1l-3.4 0.2l-3.5 -1.1zM860.2 356.5l3.5 1.1l-3.4 0.2l-3.5 -1.1zM875.2 357.3l3.4 1.1l-3.4 0.3l-3.5 -1.1zM870.2 357.7l3.4 1.1l-3.4 0.2l-3.4 -1zM885.2 358.5l3.4 1.1l-3.5 0.3l-3.4 -1.1zM900.2 359.3l3.4 1.1l-3.5 0.3l-3.4 -1.1zM895.1 359.7l3.4 1.1l-3.5 0.3l-3.4 -1.1zM910.3 360.6l3.3 1.1l-3.5 0.2l-3.4 -1.1zM925.5 361.4l3.3 1.1l-3.6 0.2l-3.3 -1zM920.3 361.8l3.3 1.1l-3.6 0.2l-3.3 -1.1zM935.5 362.6l3.3 1.1l-3.6 0.3l-3.3 -1.1zM950.9 363.5l3.2 1.1l-3.6 0.2l-3.3 -1.1zM945.6 363.8l3.2 1.1l-3.6 0.3l-3.3 -1.1zM960.9 364.7l3.3 1.1l-3.7 0.2l-3.3 -1.1zM976.4 365.5l3.2 1.1l-3.7 0.3l-3.2 -1.1zM971 365.9l3.2 1.1l-3.7 0.2l-3.2 -1zM986.5 366.8l3.2 1.1l-3.7 0.2l-3.2 -1.1z"/><path fill="#4685d0" d="M806.1 352.9l3.6 1.1l-3.3 0.2l-3.5 -1.1zM816 354l3.5 1.1l-3.2 0.3l-3.6 -1.1zM830.6 354.9l3.5 1l-3.3 0.3l-3.5 -1.1zM825.8 355.2l3.6 1.1l-3.3 0.3l-3.5 -1.1zM840.5 356.1l3.5 1l-3.3 0.3l-3.5 -1.1zM855.3 356.9l3.5 1.1l-3.4 0.2l-3.5 -1.1zM850.4 357.2l3.5 1.1l-3.4 0.3l-3.4 -1.1zM865.2 358.1l3.5 1.1l-3.4 0.2l-3.5 -1.1zM880.1 358.9l3.5 1.1l-3.5 0.2l-3.4 -1zM875.2 359.3l3.4 1.1l-3.5 0.2l-3.4 -1.1zM890.1 360.1l3.4 1.1l-3.5 0.2l-3.4 -1zM905.1 360.9l3.4 1.1l-3.5 0.3l-3.4 -1.1zM900 361.3l3.4 1.1l-3.5 0.2l-3.4 -1zM915.1 362.1l3.4 1.1l-3.6 0.3l-3.3 -1.1zM930.3 363l3.3 1.1l-3.6 0.2l-3.3 -1.1zM925.1 363.3l3.3 1.1l-3.6 0.3l-3.3 -1.1zM940.3 364.2l3.3 1.1l-3.6 0.2l-3.3 -1.1zM955.6 365l3.3 1.1l-3.7 0.3l-3.3 -1.1zM950.3 365.4l3.3 1.1l-3.7 0.2l-3.2 -1zM965.6 366.3l3.3 1l-3.7 0.3l-3.3 -1.1zM981.1 367.1l3.2 1.1l-3.8 0.2l-3.2 -1zM975.7 367.5l3.2 1.1l-3.7 0.2l-3.2 -1.1z"/><path fill="#407bd0" d="M811.3 354.4l3.5 1.1l-3.2 0.3l-3.6 -1.1zM821.1 355.6l3.5 1.1l-3.2 0.3l-3.6 -1.1zM835.7 356.4l3.5 1.1l-3.3 0.3l-3.5 -1.1zM830.9 356.8l3.5 1.1l-3.3 0.3l-3.5 -1.1zM845.6 357.6l3.4 1.1l-3.3 0.3l-3.5 -1.1zM860.3 358.4l3.5 1.1l-3.4 0.3l-3.5 -1.1zM855.4 358.8l3.5 1.1l-3.4 0.3l-3.4 -1.1zM870.2 359.6l3.4 1.1l-3.4 0.3l-3.4 -1.1zM885.1 360.5l3.4 1.1l-3.5 0.2l-3.4 -1.1zM880.1 360.8l3.4 1.1l-3.4 0.3l-3.4 -1.1zM895 361.7l3.4 1.1l-3.5 0.2l-3.4 -1.1zM910 362.5l3.3 1.1l-3.5 0.2l-3.3 -1zM904.9 362.9l3.4 1l-3.5 0.3l-3.4 -1.1zM919.9 363.7l3.4 1.1l-3.6 0.2l-3.3 -1zM935.1 364.6l3.3 1l-3.6 0.3l-3.3 -1.1zM929.9 364.9l3.3 1.1l-3.6 0.2l-3.3 -1zM945 365.8l3.3 1l-3.6 0.3l-3.3 -1.1zM960.3 366.6l3.2 1.1l-3.6 0.2l-3.3 -1zM955 367l3.2 1l-3.6 0.3l-3.2 -1.1zM970.3 367.8l3.2 1.1l-3.7 0.2l-3.2 -1z"/><path fill="#3a71d0" d="M816.4 356l3.5 1.1l-3.2 0.3l-3.6 -1.1zM826.2 357.2l3.5 1.1l-3.3 0.2l-3.5 -1zM840.8 358l3.4 1.1l-3.3 0.2l-3.5 -1zM836 358.4l3.5 1.1l-3.3 0.2l-3.5 -1.1zM850.6 359.2l3.4 1.1l-3.3 0.2l-3.4 -1zM865.3 360l3.4 1.1l-3.4 0.2l-3.4 -1zM860.4 360.4l3.4 1.1l-3.3 0.2l-3.4 -1.1zM875.1 361.2l3.4 1.1l-3.4 0.2l-3.4 -1zM890 362l3.4 1.1l-3.5 0.3l-3.4 -1.1zM885 362.4l3.4 1.1l-3.5 0.2l-3.3 -1.1zM899.9 363.2l3.3 1.1l-3.5 0.2l-3.3 -1zM914.8 364.1l3.3 1l-3.5 0.3l-3.3 -1.1zM909.7 364.4l3.4 1.1l-3.5 0.2l-3.4 -1zM924.7 365.3l3.3 1l-3.5 0.3l-3.3 -1.1zM939.8 366.1l3.3 1.1l-3.6 0.2l-3.3 -1zM934.6 366.5l3.3 1l-3.6 0.3l-3.2 -1.1zM949.8 367.3l3.2 1.1l-3.6 0.2l-3.3 -1zM965 368.2l3.2 1l-3.7 0.3l-3.2 -1.1zM959.7 368.5l3.2 1.1l-3.6 0.2l-3.3 -1z"/><path fill="#3568d0" d="M821.5 357.6l3.5 1l-3.3 0.3l-3.5 -1.1zM831.2 358.8l3.5 1l-3.3 0.3l-3.4 -1.1zM845.8 359.6l3.4 1l-3.3 0.3l-3.4 -1.1zM841 359.9l3.5 1.1l-3.3 0.3l-3.5 -1.1zM855.6 360.7l3.4 1.1l-3.3 0.3l-3.5 -1.1zM870.2 361.6l3.4 1l-3.3 0.3l-3.5 -1.1zM865.4 361.9l3.4 1.1l-3.4 0.2l-3.4 -1zM880.1 362.8l3.3 1l-3.4 0.3l-3.4 -1.1zM894.8 363.6l3.4 1.1l-3.5 0.2l-3.3 -1.1zM889.9 363.9l3.3 1.1l-3.4 0.3l-3.4 -1.1zM904.7 364.8l3.3 1l-3.5 0.3l-3.3 -1.1zM919.6 365.6l3.3 1.1l-3.5 0.2l-3.3 -1zM914.5 366l3.3 1l-3.5 0.3l-3.3 -1.1zM929.5 366.8l3.3 1.1l-3.6 0.2l-3.3 -1zM944.5 367.7l3.3 1l-3.6 0.3l-3.3 -1.1zM939.4 368l3.2 1.1l-3.6 0.2l-3.2 -1.1zM954.4 368.9l3.3 1l-3.7 0.3l-3.2 -1.1z"/><path fill="#2f5fd0" d="M826.5 359.1l3.5 1.1l-3.2 0.2l-3.5 -1zM836.2 360.3l3.5 1.1l-3.3 0.2l-3.4 -1.1zM850.8 361.1l3.4 1.1l-3.3 0.2l-3.5 -1zM846 361.5l3.4 1l-3.3 0.3l-3.4 -1.1zM860.5 362.3l3.4 1.1l-3.3 0.2l-3.4 -1.1zM875.1 363.1l3.4 1.1l-3.4 0.2l-3.3 -1zM870.3 363.5l3.3 1l-3.3 0.3l-3.4 -1.1zM884.9 364.3l3.4 1.1l-3.4 0.2l-3.4 -1.1zM899.7 365.1l3.3 1.1l-3.4 0.2l-3.4 -1zM894.7 365.5l3.3 1l-3.4 0.3l-3.3 -1.1zM909.5 366.3l3.3 1.1l-3.5 0.2l-3.3 -1zM924.4 367.2l3.2 1l-3.5 0.3l-3.3 -1.1zM919.3 367.5l3.3 1.1l-3.5 0.2l-3.3 -1.1zM934.2 368.3l3.3 1.1l-3.6 0.2l-3.2 -1zM949.2 369.2l3.2 1.1l-3.6 0.2l-3.2 -1.1zM944 369.5l3.3 1.1l-3.6 0.2l-3.2 -1z"/><path fill="#2b57d1" d="M831.5 360.7l3.5 1l-3.3 0.3l-3.4 -1.1zM841.2 361.8l3.5 1.1l-3.3 0.2l-3.4 -1zM855.7 362.6l3.4 1.1l-3.3 0.3l-3.4 -1.1zM850.9 363l3.4 1.1l-3.3 0.2l-3.4 -1.1zM865.4 363.8l3.4 1.1l-3.3 0.2l-3.4 -1zM880 364.6l3.4 1.1l-3.4 0.2l-3.4 -1zM875.1 365l3.4 1.1l-3.4 0.2l-3.3 -1.1zM889.8 365.8l3.3 1.1l-3.4 0.2l-3.4 -1zM904.5 366.7l3.3 1l-3.5 0.3l-3.3 -1.1zM899.5 367l3.3 1.1l-3.4 0.2l-3.3 -1.1zM914.2 367.8l3.3 1.1l-3.5 0.2l-3.2 -1zM929.1 368.7l3.2 1l-3.5 0.3l-3.2 -1.1zM924 369l3.3 1.1l-3.5 0.2l-3.3 -1zM938.9 369.9l3.2 1l-3.5 0.3l-3.3 -1.1zM933.8 370.2l3.2 1.1l-3.5 0.2l-3.3 -1.1z"/><path fill="#2750d1" d="M836.5 362.2l3.5 1l-3.3 0.3l-3.4 -1.1zM846.2 363.4l3.4 1l-3.3 0.2l-3.4 -1zM841.5 363.7l3.4 1.1l-3.3 0.2l-3.4 -1.1zM860.6 364.2l3.4 1l-3.3 0.3l-3.4 -1.1zM855.8 364.5l3.4 1.1l-3.3 0.2l-3.4 -1zM870.3 365.3l3.4 1.1l-3.4 0.2l-3.4 -1zM865.5 365.7l3.3 1l-3.3 0.3l-3.3 -1.1zM884.8 366.2l3.4 1l-3.4 0.3l-3.3 -1.1zM880 366.5l3.3 1.1l-3.4 0.2l-3.3 -1zM894.6 367.3l3.3 1.1l-3.4 0.2l-3.4 -1zM889.6 367.7l3.4 1l-3.4 0.3l-3.3 -1.1zM909.2 368.2l3.3 1l-3.4 0.3l-3.3 -1.1zM904.3 368.5l3.3 1.1l-3.5 0.2l-3.3 -1zM919 369.4l3.2 1l-3.4 0.2l-3.3 -1zM914 369.7l3.2 1l-3.4 0.3l-3.3 -1.1zM928.7 370.5l3.2 1.1l-3.5 0.2l-3.2 -1z"/><path fill="#2349d2" d="M851.1 364.9l3.4 1l-3.3 0.2l-3.4 -1zM846.4 365.2l3.4 1.1l-3.3 0.2l-3.4 -1.1zM860.7 366l3.4 1.1l-3.3 0.2l-3.4 -1zM875.1 366.9l3.4 1l-3.4 0.2l-3.3 -1zM870.3 367.2l3.4 1l-3.4 0.3l-3.3 -1.1zM884.8 368l3.3 1.1l-3.4 0.2l-3.3 -1zM899.3 368.9l3.3 1l-3.4 0.2l-3.3 -1zM894.4 369.2l3.3 1l-3.4 0.2l-3.3 -1zM909 370l3.3 1.1l-3.5 0.2l-3.2 -1.1zM923.7 370.9l3.2 1l-3.5 0.2l-3.2 -1zM918.7 371.2l3.2 1l-3.5 0.2l-3.2 -1z"/><path fill="#1f42d3" d="M856 366.4l3.3 1l-3.3 0.2l-3.3 -1zM851.2 366.7l3.4 1l-3.2 0.3l-3.4 -1.1zM865.5 367.5l3.4 1.1l-3.3 0.2l-3.4 -1zM879.9 368.4l3.4 1l-3.4 0.2l-3.3 -1zM875.1 368.7l3.3 1l-3.3 0.2l-3.3 -1zM889.5 369.5l3.3 1l-3.3 0.3l-3.3 -1.1zM904.1 370.3l3.2 1.1l-3.4 0.2l-3.3 -1zM899.1 370.7l3.3 1l-3.4 0.2l-3.3 -1zM913.7 371.5l3.2 1l-3.4 0.3l-3.3 -1.1z"/><path fill="#1c3ad3" d="M860.8 367.9l3.3 1l-3.2 0.2l-3.4 -1zM856.1 368.2l3.3 1l-3.2 0.2l-3.4 -1zM870.3 369l3.4 1l-3.3 0.3l-3.4 -1.1zM884.7 369.8l3.3 1.1l-3.4 0.2l-3.3 -1zM879.9 370.2l3.3 1l-3.3 0.2l-3.3 -1zM894.3 371l3.3 1l-3.4 0.2l-3.3 -1zM908.7 371.8l3.3 1.1l-3.4 0.2l-3.3 -1zM903.8 372.2l3.3 1l-3.4 0.2l-3.3 -1z"/><path fill="#1834d4" d="M865.6 369.3l3.3 1.1l-3.3 0.2l-3.3 -1zM860.9 369.7l3.3 1l-3.2 0.2l-3.4 -1zM875.1 370.5l3.3 1l-3.3 0.2l-3.3 -1zM889.4 371.3l3.3 1l-3.3 0.3l-3.3 -1.1zM884.6 371.6l3.3 1.1l-3.3 0.2l-3.3 -1zM899 372.5l3.2 1l-3.3 0.2l-3.3 -1z"/><path fill="#162fd5" d="M870.4 370.8l3.3 1l-3.3 0.2l-3.3 -1zM865.7 371.1l3.3 1l-3.3 0.3l-3.3 -1.1zM879.9 372l3.2 1l-3.3 0.2l-3.3 -1zM894.1 372.8l3.3 1l-3.4 0.2l-3.2 -1zM889.3 373.1l3.3 1l-3.3 0.2l-3.3 -1z"/><path fill="#142ad6" d="M875.1 372.3l3.3 1l-3.3 0.2l-3.3 -1zM870.4 372.6l3.3 1l-3.3 0.2l-3.3 -1zM884.6 373.4l3.2 1l-3.3 0.2l-3.3 -1z"/><path fill="#1225d7" d="M879.8 373.7l3.3 1l-3.3 0.2l-3.3 -1zM875.1 374l3.3 1l-3.3 0.2l-3.3 -1z"/></g>
<g fill="#000">
<circle cx="653.8" cy="198.4" r="1.9"/>
<circle cx="656.6" cy="267" r="1.9"/>
<circle cx="659.2" cy="335.3" r="1.9"/>
<circle cx="661.6" cy="402.8" r="1.9"/>
<circle cx="664.4" cy="470.4" r="1.9"/>
<circle cx="667.8" cy="555.4" r="1.9"/>
<circle cx="720" cy="586.6" r="1.9"/>
<circle cx="771.5" cy="617.7" r="1.9"/>
<circle cx="823.4" cy="648.7" r="1.9"/>
<circle cx="875.4" cy="680.4" r="1.9"/>
<circle cx="927.1" cy="648.7" r="1.9"/>
<circle cx="978.7" cy="617.7" r="1.9"/>
<circle cx="1030.7" cy="586.6" r="1.9"/>
<circle cx="1083.2" cy="555.4" r="1.9"/>
</g>
</g>
<g font-family="'Liberation Sans',Arial,sans-serif" filter="url(#tl)">
<text transform="translate(648.6 212.8) scale(0.555 1)" font-size="15.0" text-anchor="end" fill="#222">267</text>
<text transform="translate(651.4 281.4) scale(0.555 1)" font-size="15.0" text-anchor="end" fill="#222">256.5</text>
<text transform="translate(654 349.7) scale(0.555 1)" font-size="15.0" text-anchor="end" fill="#222">246</text>
<text transform="translate(656.4 417.2) scale(0.555 1)" font-size="15.0" text-anchor="end" fill="#222">235.5</text>
<text transform="translate(659.2 484.8) scale(0.555 1)" font-size="15.0" text-anchor="end" fill="#222">225</text>
<text transform="translate(662.6 569.7) scale(0.555 1)" font-size="15.0" text-anchor="end" fill="#222">3.00</text>
<text transform="translate(714.8 600.9) scale(0.555 1)" font-size="15.0" text-anchor="end" fill="#222">2.63</text>
<text transform="translate(766.3 632) scale(0.555 1)" font-size="15.0" text-anchor="end" fill="#222">2.25</text>
<text transform="translate(818.2 663) scale(0.555 1)" font-size="15.0" text-anchor="end" fill="#222">1.88</text>
<text transform="translate(870.2 694.7) scale(0.555 1)" font-size="15.0" text-anchor="end" fill="#222">1.50</text>
<text transform="translate(880.3 694.7) scale(0.555 1)" font-size="15.0" text-anchor="start" fill="#222">2.50</text>
<text transform="translate(932 663) scale(0.555 1)" font-size="15.0" text-anchor="start" fill="#222">3.13</text>
<text transform="translate(983.6 632) scale(0.555 1)" font-size="15.0" text-anchor="start" fill="#222">3.75</text>
<text transform="translate(1035.6 600.9) scale(0.555 1)" font-size="15.0" text-anchor="start" fill="#222">4.38</text>
<text transform="translate(1088.1 569.7) scale(0.555 1)" font-size="15.0" text-anchor="start" fill="#222">5.00</text>
</g>
<g font-family="'Liberation Sans',Arial,sans-serif" filter="url(#tb)">
<text transform="translate(646.5 675) scale(0.515 1)" font-size="25" text-anchor="start" fill="#111">B: PEG : DDAB</text>
<text transform="translate(1013 675) scale(0.515 1)" font-size="25" text-anchor="start" fill="#111">A: DDAB : Drug</text>
<text transform="translate(588.5 383.4) rotate(-90) scale(1 0.6)" font-size="23.5" text-anchor="middle" fill="#222">PS</text>
</g>
</g>
<g id="panelC">
<g filter="url(#soft)">
<polygon points="1221.1,549.6 1422.4,677.5 1623.5,549.5 1422.4,450" fill="#ffff36"/>
<line x1="1239.4" y1="558" x2="1512.8" y2="495.8" stroke="#dcf434" stroke-width="1.5" stroke-opacity="0.6"/>
<line x1="1255.9" y1="570.9" x2="1536.5" y2="508" stroke="#a8ec38" stroke-width="1.5" stroke-opacity="0.8"/>
<line x1="1274.5" y1="583.8" x2="1560.2" y2="519.5" stroke="#84e43c" stroke-width="1.5" stroke-opacity="0.9"/>
<line x1="1296.1" y1="597.4" x2="1583.1" y2="531" stroke="#7ce23c" stroke-width="1.5" stroke-opacity="0.9"/>
<line x1="1316.1" y1="610.3" x2="1606.8" y2="543.2" stroke="#7ce23c" stroke-width="1.5" stroke-opacity="0.9"/>
<polyline points="1221.1,549.6 1422.4,450 1623.5,549.5" fill="none" stroke="#222" stroke-width="1"/>
<polyline points="1221.1,549.6 1422.4,677.5 1623.5,549.5" fill="none" stroke="#111" stroke-width="1.2"/>
<path d="M1208,185.8 L1221.1,549.6 M1637.3,186.2 L1623.5,549.5 M1422.8,122.6 L1422.4,450" fill="none" stroke="#555" stroke-width="1"/>
<polyline points="1208,185.8 1422.8,122.6 1637.3,186.2" fill="none" stroke="#333" stroke-width="1.2"/>
<g shape-rendering="geometricPrecision"><polygon points="1422.6,558.5 1430.7,551.2 1419.1,553.7" fill="#60abf4"/><polygon points="1425.8,555.6 1438.7,543.9 1415.6,549 1421.2,556.6" fill="#65b7f4"/><polygon points="1433.9,548.3 1446.6,536.7 1412.1,544.2 1417.7,551.8" fill="#6bc1f4"/><polygon points="1441.9,541 1454.5,529.6 1408.7,539.5 1414.2,547.1" fill="#70caf4"/><polygon points="1449.8,533.9 1462.2,522.5 1405.2,534.8 1410.7,542.3" fill="#76d3f4"/><polygon points="1457.6,526.7 1470,515.5 1401.8,530.1 1407.3,537.6" fill="#7bdcf4"/><polygon points="1465.3,519.7 1477.6,508.6 1398.3,525.4 1403.8,532.9" fill="#81e5f3"/><polygon points="1473,512.7 1485.2,501.7 1394.9,520.7 1400.4,528.2" fill="#84e8f0"/><polygon points="1480.7,505.8 1492.7,494.9 1391.5,516.1 1397,523.5" fill="#88ecec"/><polygon points="1488.2,499 1500.2,488.1 1388.1,511.5 1393.6,518.9" fill="#8af1dc"/><polygon points="1495.7,492.2 1507.5,481.4 1384.7,506.8 1390.2,514.2" fill="#8af3d3"/><polygon points="1503.1,485.4 1514.9,474.8 1381.4,502.2 1386.8,509.6" fill="#8af4ca"/><polygon points="1510.5,478.7 1522.1,468.2 1378,497.7 1383.4,505" fill="#8af6c1"/><polygon points="1517.8,472.1 1529.3,461.7 1374.6,493.1 1380,500.4" fill="#8af8b9"/><polygon points="1525,465.6 1536.4,455.2 1371.3,488.5 1376.7,495.8" fill="#8af8b1"/><polygon points="1532.2,459.1 1543.5,448.8 1368,484 1373.3,491.3" fill="#8af8aa"/><polygon points="1539.3,452.6 1550.5,442.4 1364.7,479.5 1370,486.7" fill="#8af8a3"/><polygon points="1546.3,446.2 1557.5,436.1 1361.3,474.9 1366.6,482.2" fill="#8af89d"/><polygon points="1553.3,439.9 1564.4,429.8 1358.1,470.4 1363.3,477.6" fill="#8af896"/><polygon points="1560.2,433.6 1571.2,423.6 1354.8,466 1360,473.1" fill="#8af891"/><polygon points="1567.1,427.3 1578,417.5 1351.5,461.5 1356.7,468.7" fill="#89f88b"/><polygon points="1573.9,421.2 1584.7,411.4 1348.2,457 1353.5,464.2" fill="#89f884"/><polygon points="1580.7,415 1591.4,405.3 1345,452.6 1350.2,459.7" fill="#88f87e"/><polygon points="1587.4,409 1598,399.3 1341.7,448.2 1346.9,455.3" fill="#88f878"/><polygon points="1594,402.9 1604.5,393.4 1338.5,443.8 1343.7,450.8" fill="#88f872"/><polygon points="1600.6,396.9 1611,387.5 1335.3,439.4 1340.4,446.4" fill="#88f86b"/><polygon points="1607.1,391 1617.5,381.6 1332.1,435 1337.2,442" fill="#88f866"/><polygon points="1613.6,385.1 1623.9,375.8 1328.9,430.6 1334,437.6" fill="#88f861"/><polygon points="1620.1,379.3 1630.2,370.1 1325.7,426.3 1330.8,433.3" fill="#88f85c"/><polygon points="1626.4,373.5 1630.3,370 1626.9,366.1 1322.5,421.9 1327.6,428.9" fill="#88f857"/><polygon points="1629,368.5 1623.5,362.2 1319.3,417.6 1324.4,424.5" fill="#88f852"/><polygon points="1625.6,364.5 1620.2,358.3 1316.2,413.3 1321.2,420.2" fill="#88f84f"/><polygon points="1622.2,360.6 1616.8,354.4 1313,409 1318.1,415.9" fill="#89f84c"/><polygon points="1618.8,356.7 1613.4,350.5 1309.9,404.7 1314.9,411.6" fill="#89f84a"/><polygon points="1615.4,352.8 1610.1,346.6 1306.8,400.5 1311.8,407.3" fill="#89f847"/><polygon points="1612.1,348.9 1606.7,342.7 1303.6,396.2 1308.6,403" fill="#8af845"/><polygon points="1608.7,345.1 1603.4,338.9 1300.5,392 1305.5,398.8" fill="#8af844"/><polygon points="1605.4,341.2 1600.1,335.1 1297.4,387.7 1302.4,394.5" fill="#8bf843"/><polygon points="1602.1,337.4 1596.8,331.2 1294.3,383.5 1299.3,390.3" fill="#8bf842"/><polygon points="1598.7,333.5 1593.5,327.4 1291.3,379.3 1296.2,386.1" fill="#8bf841"/><polygon points="1595.4,329.7 1590.2,323.6 1288.2,375.1 1293.1,381.8" fill="#8cf840"/><polygon points="1592.1,325.9 1586.9,319.8 1285.1,371 1290,377.7" fill="#8cf840"/><polygon points="1588.9,322.1 1583.6,316 1282.1,366.8 1287,373.5" fill="#8cf840"/><polygon points="1585.6,318.3 1580.3,312.2 1279,362.7 1283.9,369.3" fill="#8df840"/><polygon points="1582.3,314.5 1577.1,308.5 1276,358.5 1280.9,365.1" fill="#8ef840"/><polygon points="1579,310.7 1573.8,304.7 1273,354.4 1277.8,361" fill="#8ff840"/><polygon points="1575.8,307 1570.6,301 1270,350.3 1274.8,356.9" fill="#91f840"/><polygon points="1572.6,303.2 1567.4,297.3 1267,346.2 1271.8,352.8" fill="#93f83f"/><polygon points="1569.3,299.5 1564.2,293.5 1264,342.1 1268.8,348.7" fill="#95f83f"/><polygon points="1566.1,295.8 1561,289.8 1261,338 1265.8,344.6" fill="#97f83e"/><polygon points="1562.9,292.1 1557.8,286.1 1258,334 1262.8,340.5" fill="#99f83e"/><polygon points="1559.7,288.4 1554.6,282.4 1255.1,329.9 1259.8,336.4" fill="#9cf83d"/><polygon points="1556.5,284.7 1551.4,278.8 1252.1,325.9 1256.8,332.4" fill="#9ef83d"/><polygon points="1553.3,281 1548.2,275.1 1249.2,321.9 1253.9,328.3" fill="#a0f83c"/><polygon points="1550.1,277.3 1545.1,271.5 1246.2,317.9 1250.9,324.3" fill="#a5f83c"/><polygon points="1547,273.6 1541.9,267.8 1243.3,313.9 1248,320.3" fill="#a9f83c"/><polygon points="1543.8,270 1538.8,264.2 1240.4,309.9 1245,316.3" fill="#aff83b"/><polygon points="1540.7,266.4 1535.6,260.6 1237.5,305.9 1242.1,312.3" fill="#b5f83a"/><polygon points="1537.5,262.7 1532.5,256.9 1234.6,302 1239.2,308.3" fill="#bbf83a"/><polygon points="1534.4,259.1 1529.4,253.3 1231.7,298 1236.3,304.4" fill="#c0f83a"/><polygon points="1531.3,255.5 1526.3,249.7 1228.8,294.1 1233.4,300.4" fill="#c6f83a"/><polygon points="1528.2,251.9 1523.2,246.2 1225.9,290.2 1230.5,296.5" fill="#cbf83a"/><polygon points="1525.1,248.3 1520.1,242.6 1223,286.3 1227.6,292.5" fill="#d1f739"/><polygon points="1522,244.7 1517,239 1220.2,282.4 1224.8,288.6" fill="#d7f638"/><polygon points="1518.9,241.2 1514,235.5 1217.3,278.5 1221.9,284.7" fill="#dcf537"/><polygon points="1515.8,237.6 1510.9,231.9 1214.5,274.6 1219,280.8" fill="#e2f537"/><polygon points="1512.7,234.1 1507.8,228.4 1211.8,270.7 1211.7,270.8 1216.2,276.9" fill="#e7f436"/><polygon points="1509.7,230.5 1504.8,224.9 1219.9,265.3 1211.7,270.8 1213.4,273.1" fill="#edf235"/><polygon points="1506.6,227 1501.8,221.4 1227.9,260 1215,268.6" fill="#f4f034"/><polygon points="1503.6,223.5 1498.7,217.9 1235.9,254.7 1223.1,263.2" fill="#f5eb33"/><polygon points="1500.5,220 1495.7,214.4 1243.8,249.4 1231.1,257.9" fill="#f5e531"/><polygon points="1497.5,216.5 1492.7,210.9 1251.7,244.2 1239.1,252.6" fill="#f6e030"/><polygon points="1494.5,213 1489.7,207.4 1259.5,239 1247,247.3" fill="#f5d82f"/><polygon points="1491.5,209.5 1486.7,204 1267.2,233.8 1254.8,242.1" fill="#f5d02d"/><polygon points="1488.5,206 1483.7,200.5 1274.9,228.7 1262.6,236.9" fill="#f4c82c"/><polygon points="1485.5,202.6 1480.7,197.1 1282.5,223.7 1270.3,231.8" fill="#f3c02b"/><polygon points="1482.5,199.1 1477.8,193.6 1290,218.6 1277.9,226.7" fill="#f3b829"/><polygon points="1479.5,195.7 1474.8,190.2 1297.5,213.7 1285.5,221.7" fill="#f2b028"/><polygon points="1476.6,192.3 1471.9,186.8 1305,208.7 1293,216.6" fill="#f1a927"/><polygon points="1473.6,188.9 1468.9,183.4 1312.3,203.8 1300.5,211.7" fill="#f1a125"/><polygon points="1470.7,185.4 1466,180 1319.6,198.9 1307.9,206.7" fill="#f09924"/><polygon points="1467.7,182 1463,176.6 1326.9,194.1 1315.3,201.9" fill="#f09122"/><polygon points="1464.8,178.7 1460.1,173.2 1334.1,189.3 1322.6,197" fill="#f08920"/><polygon points="1461.9,175.3 1457.2,169.9 1341.2,184.6 1329.8,192.2" fill="#ef821f"/><polygon points="1459,171.9 1454.3,166.5 1348.3,179.8 1337,187.4" fill="#ef7a1e"/><polygon points="1456.1,168.5 1451.4,163.2 1355.4,175.2 1344.1,182.7" fill="#ee721c"/><polygon points="1453.2,165.2 1448.5,159.8 1362.4,170.5 1351.2,178" fill="#ee6b1b"/><polygon points="1450.3,161.8 1445.7,156.5 1369.3,165.9 1358.2,173.3" fill="#ed631a"/><polygon points="1447.4,158.5 1442.8,153.2 1376.2,161.3 1365.1,168.7" fill="#ec5c19"/><polygon points="1444.5,155.2 1439.9,149.9 1383,156.8 1372,164.1" fill="#eb5518"/><polygon points="1441.6,151.9 1437.1,146.6 1389.8,152.3 1378.9,159.5" fill="#ea4f18"/><polygon points="1438.8,148.6 1434.2,143.3 1396.5,147.8 1385.7,155" fill="#e94918"/><polygon points="1435.9,145.3 1431.4,140 1403.2,143.3 1392.5,150.5" fill="#e84318"/><polygon points="1433.1,142 1428.5,136.7 1409.8,138.9 1399.2,146" fill="#e83e18"/><polygon points="1430.2,138.7 1425.7,133.5 1416.4,134.5 1405.8,141.6" fill="#e83a18"/><polygon points="1427.4,135.4 1422.9,130.2 1412.4,137.2" fill="#e73617"/></g>
<path d="M1422.6 558.5L1211.7 270.8M1422.6 558.5L1630.3 370M1428.5 553.2L1217.6 266.9M1416.7 550.5L1624.6 363.4M1434.3 547.9L1223.5 263M1410.9 542.6L1618.9 356.9M1440.1 542.6L1229.3 259.1M1405.1 534.7L1613.3 350.4M1445.8 537.4L1235.1 255.2M1399.4 526.8L1607.7 343.9M1451.5 532.2L1240.8 251.4M1393.6 519L1602.1 337.4M1457.2 527.1L1246.5 247.6M1388 511.2L1596.6 331M1462.8 522L1252.2 243.8M1382.3 503.5L1591 324.6M1468.4 516.9L1257.9 240.1M1376.7 495.8L1585.5 318.3M1474 511.8L1263.5 236.3M1371.1 488.2L1580.1 311.9M1479.5 506.8L1269.1 232.6M1365.5 480.6L1574.6 305.6M1485 501.8L1274.6 228.9M1360 473L1569.2 299.4M1490.5 496.9L1280.2 225.2M1354.4 465.5L1563.8 293.1M1495.9 492L1285.7 221.6M1349 458.1L1558.5 286.9M1501.3 487.1L1291.1 217.9M1343.5 450.6L1553.1 280.8M1506.7 482.2L1296.6 214.3M1338.1 443.2L1547.8 274.6M1512 477.4L1302 210.7M1332.7 435.9L1542.5 268.5M1517.3 472.6L1307.3 207.1M1327.4 428.6L1537.3 262.4M1522.5 467.8L1312.7 203.6M1322 421.3L1532 256.4M1527.7 463.1L1318 200.1M1316.7 414.1L1526.8 250.4M1532.9 458.4L1323.2 196.5M1311.5 406.9L1521.6 244.4M1538.1 453.7L1328.5 193M1306.2 399.7L1516.5 238.4M1543.2 449L1333.7 189.6M1301 392.6L1511.3 232.5M1548.3 444.4L1338.9 186.1M1295.8 385.6L1506.2 226.5M1553.4 439.8L1344.1 182.7M1290.7 378.5L1501.1 220.7M1558.4 435.3L1349.2 179.3M1285.5 371.5L1496.1 214.8M1563.4 430.7L1354.3 175.9M1280.4 364.6L1491 209M1568.4 426.2L1359.4 172.5M1275.3 357.6L1486 203.2M1573.3 421.7L1364.4 169.1M1270.3 350.7L1481 197.4M1578.2 417.3L1369.4 165.8M1265.3 343.9L1476.1 191.7M1583.1 412.9L1374.4 162.5M1260.3 337.1L1471.1 185.9M1587.9 408.5L1379.4 159.2M1255.3 330.3L1466.2 180.3M1592.8 404.1L1384.3 155.9M1250.4 323.5L1461.3 174.6M1597.5 399.7L1389.3 152.6M1245.4 316.8L1456.4 168.9M1602.3 395.4L1394.1 149.3M1240.5 310.1L1451.6 163.3M1607 391.1L1399 146.1M1235.7 303.5L1446.7 157.8M1611.7 386.8L1403.8 142.9M1230.8 296.9L1441.9 152.2M1616.4 382.6L1408.6 139.7M1226 290.3L1437.1 146.7M1621.1 378.4L1413.4 136.5M1221.2 283.8L1432.4 141.1M1625.7 374.2L1418.2 133.3M1216.4 277.3L1427.6 135.7M1630.3 370L1422.9 130.2M1211.7 270.8L1422.9 130.2" fill="none" stroke="#101008" stroke-width="1.25" stroke-opacity="0.78"/>
<g fill="#000">
<circle cx="1208" cy="185.8" r="1.9"/>
<circle cx="1210.4" cy="255.2" r="1.9"/>
<circle cx="1213.1" cy="324.8" r="1.9"/>
<circle cx="1215" cy="393.8" r="1.9"/>
<circle cx="1218.1" cy="463" r="1.9"/>
<circle cx="1221.1" cy="549.6" r="1.9"/>
<circle cx="1271.5" cy="581.7" r="1.9"/>
<circle cx="1322" cy="613.3" r="1.9"/>
<circle cx="1371.8" cy="644.7" r="1.9"/>
<circle cx="1422.4" cy="677.5" r="1.9"/>
<circle cx="1472.7" cy="644.3" r="1.9"/>
<circle cx="1523" cy="613.2" r="1.9"/>
<circle cx="1573.1" cy="581.7" r="1.9"/>
<circle cx="1623.5" cy="549.5" r="1.9"/>
</g>
</g>
<g font-family="'Liberation Sans',Arial,sans-serif" filter="url(#tl)">
<text transform="translate(1202.8 200.2) scale(0.555 1)" font-size="15.0" text-anchor="end" fill="#222">59</text>
<text transform="translate(1205.2 269.6) scale(0.555 1)" font-size="15.0" text-anchor="end" fill="#222">56</text>
<text transform="translate(1207.9 339.2) scale(0.555 1)" font-size="15.0" text-anchor="end" fill="#222">53</text>
<text transform="translate(1209.8 408.2) scale(0.555 1)" font-size="15.0" text-anchor="end" fill="#222">50</text>
<text transform="translate(1212.9 477.4) scale(0.555 1)" font-size="15.0" text-anchor="end" fill="#222">47</text>
<text transform="translate(1215.9 563.9) scale(0.555 1)" font-size="15.0" text-anchor="end" fill="#222">2.00</text>
<text transform="translate(1266.3 596) scale(0.555 1)" font-size="15.0" text-anchor="end" fill="#222">1.75</text>
<text transform="translate(1316.8 627.6) scale(0.555 1)" font-size="15.0" text-anchor="end" fill="#222">1.50</text>
<text transform="translate(1366.6 659) scale(0.555 1)" font-size="15.0" text-anchor="end" fill="#222">1.25</text>
<text transform="translate(1417.2 691.8) scale(0.555 1)" font-size="15.0" text-anchor="end" fill="#222">1.00</text>
<text transform="translate(1427.3 691.8) scale(0.555 1)" font-size="15.0" text-anchor="start" fill="#222">2.5</text>
<text transform="translate(1477.6 658.6) scale(0.555 1)" font-size="15.0" text-anchor="start" fill="#222">3.125</text>
<text transform="translate(1527.9 627.5) scale(0.555 1)" font-size="15.0" text-anchor="start" fill="#222">3.75</text>
<text transform="translate(1578 596) scale(0.555 1)" font-size="15.0" text-anchor="start" fill="#222">4.375</text>
<text transform="translate(1628.4 563.8) scale(0.555 1)" font-size="15.0" text-anchor="start" fill="#222">5</text>
</g>
<g font-family="'Liberation Sans',Arial,sans-serif" filter="url(#tb)">
<text transform="translate(1209 670.7) scale(0.515 1)" font-size="25" text-anchor="start" fill="#111">C: PC : PEG</text>
<text transform="translate(1556 670.7) scale(0.515 1)" font-size="25" text-anchor="start" fill="#111">A: DDAB : Drug</text>
<text transform="translate(1143.9 373.2) rotate(-90) scale(1 0.52)" font-size="24.5" text-anchor="middle" fill="#222">ZP</text>
</g>
</g>
<g font-family="'Liberation Serif','Times New Roman',serif" font-weight="bold" font-size="47.5" fill="#000">
<text transform="translate(77.3 36.5) scale(1.0 1.05)" letter-spacing="1.2">A)</text>
<text transform="translate(274.5 36.5) scale(1.0 1.05)">EE %</text>
<text transform="translate(623.5 36.5) scale(1.0 1.05)" letter-spacing="0.8">B)</text>
<text transform="translate(805 36.5) scale(1.021 1.05)">PS (nm)</text>
<text transform="translate(1213.5 36.7) scale(1.0 1.05)" letter-spacing="1.2">C)</text>
<text transform="translate(1398.5 36.7) scale(1.025 1.05)">ZP (mV)</text>
</g>
<g fill="#e4e4e4"><rect x="435.6" y="693" width="1.2" height="1"/><rect x="450.6" y="693" width="1.2" height="1"/><rect x="477.2" y="693" width="1.2" height="1"/><rect x="482" y="693" width="1.2" height="1"/><rect x="486.6" y="693" width="1.2" height="1"/><rect x="490" y="693" width="1.2" height="1"/><rect x="502.6" y="693" width="1.2" height="1"/></g>
</svg>
</body></html>
